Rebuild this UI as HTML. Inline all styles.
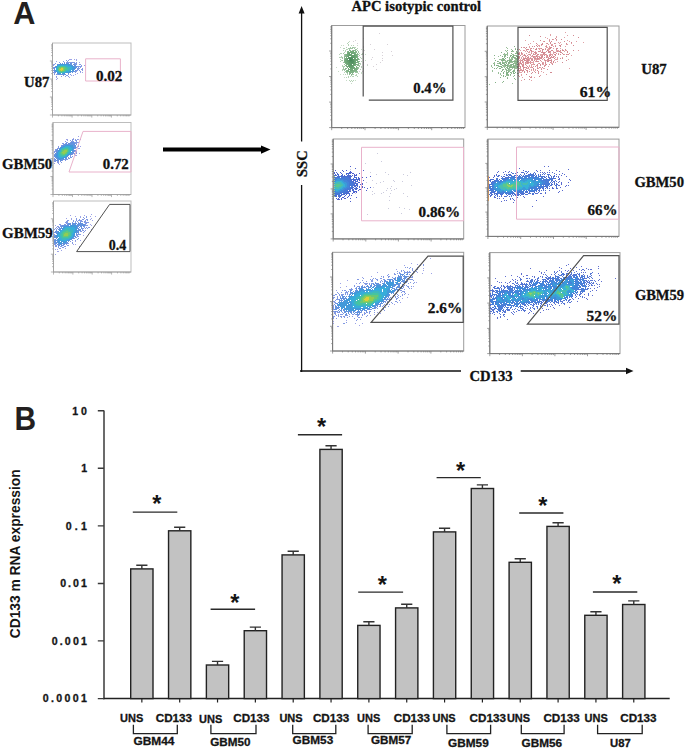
<!DOCTYPE html>
<html><head><meta charset="utf-8"><style>
html,body{margin:0;padding:0;background:#fff;width:685px;height:748px;overflow:hidden}
svg{display:block}
</style></head><body>
<svg width="685" height="748" viewBox="0 0 685 748">
<defs><filter id="bl" x="-20%" y="-20%" width="140%" height="140%"><feGaussianBlur stdDeviation="0.45"/></filter></defs>
<rect width="685" height="748" fill="#fff"/>
<text x="13.2" y="24" style="font-family:'Liberation Sans',sans-serif;font-weight:bold;font-size:30.7px" fill="#231f20" >A</text>
<rect x="52.5" y="43" width="78.5" height="72" fill="none" stroke="#bdbdbd" stroke-width="1"/>
<path d="M52.5 43V115H131" fill="none" stroke="#a5a5a5" stroke-width="1"/>
<path d="M49.9 115.0h2.6 M51.1 109.6h1.4 M51.1 106.4h1.4 M51.1 104.2h1.4 M51.1 102.4h1.4 M51.1 101.0h1.4 M51.1 99.8h1.4 M51.1 98.7h1.4 M51.1 97.8h1.4 M49.9 97.0h2.6 M51.1 91.6h1.4 M51.1 88.4h1.4 M51.1 86.2h1.4 M51.1 84.4h1.4 M51.1 83.0h1.4 M51.1 81.8h1.4 M51.1 80.7h1.4 M51.1 79.8h1.4 M49.9 79.0h2.6 M51.1 73.6h1.4 M51.1 70.4h1.4 M51.1 68.2h1.4 M51.1 66.4h1.4 M51.1 65.0h1.4 M51.1 63.8h1.4 M51.1 62.7h1.4 M51.1 61.8h1.4 M49.9 61.0h2.6 M51.1 55.6h1.4 M51.1 52.4h1.4 M51.1 50.2h1.4 M51.1 48.4h1.4 M51.1 47.0h1.4 M51.1 45.8h1.4 M51.1 44.7h1.4 M52.5 115v2.6 M58.4 115v1.4 M61.9 115v1.4 M64.3 115v1.4 M66.2 115v1.4 M67.8 115v1.4 M69.1 115v1.4 M70.2 115v1.4 M71.2 115v1.4 M72.1 115v2.6 M78.0 115v1.4 M81.5 115v1.4 M83.9 115v1.4 M85.8 115v1.4 M87.4 115v1.4 M88.7 115v1.4 M89.8 115v1.4 M90.9 115v1.4 M91.8 115v2.6 M97.7 115v1.4 M101.1 115v1.4 M103.6 115v1.4 M105.5 115v1.4 M107.0 115v1.4 M108.3 115v1.4 M109.5 115v1.4 M110.5 115v1.4 M111.4 115v2.6 M117.3 115v1.4 M120.7 115v1.4 M123.2 115v1.4 M125.1 115v1.4 M126.6 115v1.4 M128.0 115v1.4 M129.1 115v1.4" stroke="#999" stroke-width="0.7" fill="none"/>
<rect x="53" y="122.5" width="78" height="72.0" fill="none" stroke="#bdbdbd" stroke-width="1"/>
<path d="M53 122.5V194.5H131" fill="none" stroke="#a5a5a5" stroke-width="1"/>
<path d="M50.4 194.5h2.6 M51.6 189.1h1.4 M51.6 185.9h1.4 M51.6 183.7h1.4 M51.6 181.9h1.4 M51.6 180.5h1.4 M51.6 179.3h1.4 M51.6 178.2h1.4 M51.6 177.3h1.4 M50.4 176.5h2.6 M51.6 171.1h1.4 M51.6 167.9h1.4 M51.6 165.7h1.4 M51.6 163.9h1.4 M51.6 162.5h1.4 M51.6 161.3h1.4 M51.6 160.2h1.4 M51.6 159.3h1.4 M50.4 158.5h2.6 M51.6 153.1h1.4 M51.6 149.9h1.4 M51.6 147.7h1.4 M51.6 145.9h1.4 M51.6 144.5h1.4 M51.6 143.3h1.4 M51.6 142.2h1.4 M51.6 141.3h1.4 M50.4 140.5h2.6 M51.6 135.1h1.4 M51.6 131.9h1.4 M51.6 129.7h1.4 M51.6 127.9h1.4 M51.6 126.5h1.4 M51.6 125.3h1.4 M51.6 124.2h1.4 M53.0 194.5v2.6 M58.9 194.5v1.4 M62.3 194.5v1.4 M64.7 194.5v1.4 M66.6 194.5v1.4 M68.2 194.5v1.4 M69.5 194.5v1.4 M70.6 194.5v1.4 M71.6 194.5v1.4 M72.5 194.5v2.6 M78.4 194.5v1.4 M81.8 194.5v1.4 M84.2 194.5v1.4 M86.1 194.5v1.4 M87.7 194.5v1.4 M89.0 194.5v1.4 M90.1 194.5v1.4 M91.1 194.5v1.4 M92.0 194.5v2.6 M97.9 194.5v1.4 M101.3 194.5v1.4 M103.7 194.5v1.4 M105.6 194.5v1.4 M107.2 194.5v1.4 M108.5 194.5v1.4 M109.6 194.5v1.4 M110.6 194.5v1.4 M111.5 194.5v2.6 M117.4 194.5v1.4 M120.8 194.5v1.4 M123.2 194.5v1.4 M125.1 194.5v1.4 M126.7 194.5v1.4 M128.0 194.5v1.4 M129.1 194.5v1.4" stroke="#999" stroke-width="0.7" fill="none"/>
<rect x="53.5" y="201" width="77.5" height="71" fill="none" stroke="#bdbdbd" stroke-width="1"/>
<path d="M53.5 201V272H131" fill="none" stroke="#a5a5a5" stroke-width="1"/>
<path d="M50.9 272.0h2.6 M52.1 266.7h1.4 M52.1 263.5h1.4 M52.1 261.3h1.4 M52.1 259.6h1.4 M52.1 258.2h1.4 M52.1 257.0h1.4 M52.1 256.0h1.4 M52.1 255.1h1.4 M50.9 254.2h2.6 M52.1 248.9h1.4 M52.1 245.8h1.4 M52.1 243.6h1.4 M52.1 241.8h1.4 M52.1 240.4h1.4 M52.1 239.2h1.4 M52.1 238.2h1.4 M52.1 237.3h1.4 M50.9 236.5h2.6 M52.1 231.2h1.4 M52.1 228.0h1.4 M52.1 225.8h1.4 M52.1 224.1h1.4 M52.1 222.7h1.4 M52.1 221.5h1.4 M52.1 220.5h1.4 M52.1 219.6h1.4 M50.9 218.8h2.6 M52.1 213.4h1.4 M52.1 210.3h1.4 M52.1 208.1h1.4 M52.1 206.3h1.4 M52.1 204.9h1.4 M52.1 203.7h1.4 M52.1 202.7h1.4 M53.5 272v2.6 M59.3 272v1.4 M62.7 272v1.4 M65.2 272v1.4 M67.0 272v1.4 M68.6 272v1.4 M69.9 272v1.4 M71.0 272v1.4 M72.0 272v1.4 M72.9 272v2.6 M78.7 272v1.4 M82.1 272v1.4 M84.5 272v1.4 M86.4 272v1.4 M88.0 272v1.4 M89.2 272v1.4 M90.4 272v1.4 M91.4 272v1.4 M92.2 272v2.6 M98.1 272v1.4 M101.5 272v1.4 M103.9 272v1.4 M105.8 272v1.4 M107.3 272v1.4 M108.6 272v1.4 M109.7 272v1.4 M110.7 272v1.4 M111.6 272v2.6 M117.5 272v1.4 M120.9 272v1.4 M123.3 272v1.4 M125.2 272v1.4 M126.7 272v1.4 M128.0 272v1.4 M129.1 272v1.4" stroke="#999" stroke-width="0.7" fill="none"/>
<g stroke-width="1" opacity="0.9" filter="url(#bl)"><path d="M69 59.5h1M70 59.5h1M71 59.5h1M74 59.5h1M76 59.5h1M76 60.5h1M56 61.5h1M79 62.5h1M53 64.5h1M84 65.5h1M80 72.5h1M82 72.5h1M77 73.5h1M75 74.5h1M71 75.5h1M73 75.5h1M56 77.5h1M69 77.5h1M57 78.5h1M56 79.5h1" stroke="#939ae5"/><path d="M66 60.5h1M68 60.5h1M63 61.5h1M67 61.5h1M59 62.5h1M64 62.5h1M66 62.5h1M67 62.5h1M68 62.5h1M69 62.5h1M70 62.5h1M71 62.5h1M72 62.5h1M73 62.5h1M74 62.5h1M76 62.5h1M55 63.5h1M74 63.5h1M75 63.5h1M76 63.5h1M54 64.5h1M75 64.5h1M76 64.5h1M79 64.5h1M80 64.5h1M53 65.5h1M81 65.5h1M77 66.5h1M78 66.5h1M79 66.5h1M80 66.5h1M81 66.5h1M53 67.5h1M78 67.5h1M80 67.5h1M53 68.5h1M77 68.5h1M78 68.5h1M79 68.5h1M82 68.5h1M77 69.5h1M78 69.5h1M81 69.5h1M82 69.5h1M53 70.5h1M76 70.5h1M77 70.5h1M79 70.5h1M82 70.5h1M75 71.5h1M76 71.5h1M80 71.5h1M53 72.5h1M54 72.5h1M75 72.5h1M54 73.5h1M54 74.5h1M56 74.5h1M57 74.5h1M68 74.5h1M70 74.5h1M63 75.5h1M66 75.5h1M67 75.5h1M56 76.5h1M61 76.5h1M65 76.5h1M68 76.5h1" stroke="#758fe0"/><path d="M60 63.5h1M62 63.5h1M64 63.5h1M66 63.5h1M67 63.5h1M68 63.5h1M70 63.5h1M71 63.5h1M57 64.5h1M58 64.5h1M70 64.5h1M71 64.5h1M73 64.5h1M74 64.5h1M72 65.5h1M74 65.5h1M75 65.5h1M55 66.5h1M74 66.5h1M75 66.5h1M76 66.5h1M54 67.5h1M55 67.5h1M75 67.5h1M76 67.5h1M54 68.5h1M75 68.5h1M54 69.5h1M74 69.5h1M54 70.5h1M75 70.5h1M54 71.5h1M55 71.5h1M72 71.5h1M73 71.5h1M74 71.5h1M55 72.5h1M70 72.5h1M72 72.5h1M57 73.5h1M68 73.5h1M58 74.5h1M59 74.5h1M60 74.5h1M61 74.5h1M62 74.5h1M63 74.5h1M64 74.5h1M65 74.5h1" stroke="#5287db"/><path d="M59 64.5h1M60 64.5h1M61 64.5h1M62 64.5h1M63 64.5h1M64 64.5h1M65 64.5h1M66 64.5h1M67 64.5h1M68 64.5h1M69 64.5h1M57 65.5h1M68 65.5h1M69 65.5h1M70 65.5h1M71 65.5h1M56 66.5h1M71 66.5h1M72 66.5h1M73 66.5h1M56 67.5h1M72 67.5h1M73 67.5h1M74 67.5h1M72 68.5h1M73 68.5h1M74 68.5h1M72 69.5h1M73 69.5h1M55 70.5h1M72 70.5h1M73 70.5h1M56 71.5h1M69 71.5h1M70 71.5h1M71 71.5h1M57 72.5h1M66 72.5h1M67 72.5h1M68 72.5h1M69 72.5h1M58 73.5h1M59 73.5h1M63 73.5h1M64 73.5h1" stroke="#2f8ed7"/><path d="M58 65.5h1M59 65.5h1M60 65.5h1M61 65.5h1M62 65.5h1M63 65.5h1M64 65.5h1M65 65.5h1M66 65.5h1M67 65.5h1M57 66.5h1M67 66.5h1M68 66.5h1M69 66.5h1M70 66.5h1M70 67.5h1M71 67.5h1M56 68.5h1M70 68.5h1M71 68.5h1M56 69.5h1M70 69.5h1M71 69.5h1M56 70.5h1M69 70.5h1M70 70.5h1M57 71.5h1M66 71.5h1M67 71.5h1M68 71.5h1M58 72.5h1M64 72.5h1M65 72.5h1M60 73.5h1M62 73.5h1" stroke="#23a5d7"/><path d="M58 66.5h1M59 66.5h1M65 66.5h1M66 66.5h1M57 67.5h1M67 67.5h1M68 67.5h1M69 67.5h1M57 68.5h1M68 68.5h1M69 68.5h1M57 69.5h1M68 69.5h1M69 69.5h1M57 70.5h1M66 70.5h1M67 70.5h1M68 70.5h1M58 71.5h1M65 71.5h1M59 72.5h1M60 72.5h1M62 72.5h1M63 72.5h1" stroke="#2ab1b6"/><path d="M60 66.5h1M61 66.5h1M62 66.5h1M63 66.5h1M64 66.5h1M58 67.5h1M65 67.5h1M66 67.5h1M58 68.5h1M66 68.5h1M67 68.5h1M65 69.5h1M66 69.5h1M67 69.5h1M58 70.5h1M65 70.5h1M59 71.5h1M63 71.5h1M64 71.5h1M61 72.5h1" stroke="#32be96"/><path d="M59 67.5h1M60 67.5h1M63 67.5h1M64 67.5h1M64 68.5h1M65 68.5h1M58 69.5h1M64 69.5h1M64 70.5h1M60 71.5h1M61 71.5h1M62 71.5h1" stroke="#58c369"/><path d="M61 67.5h1M62 67.5h1M59 68.5h1M60 68.5h1M63 68.5h1M59 69.5h1M63 69.5h1M59 70.5h1M60 70.5h1M62 70.5h1M63 70.5h1" stroke="#88c841"/><path d="M61 68.5h1M62 68.5h1M60 69.5h1M61 69.5h1M62 69.5h1M61 70.5h1" stroke="#dcc828"/></g>
<g stroke-width="1" opacity="0.9" filter="url(#bl)"><path d="M78 136.5h1M73 138.5h1M66 139.5h1M67 139.5h1M78 139.5h1M80 139.5h1M67 140.5h1M80 146.5h1M78 148.5h1M79 148.5h1M79 153.5h1M75 155.5h1M76 155.5h1M54 163.5h1M59 164.5h1" stroke="#939ae5"/><path d="M72 139.5h1M73 139.5h1M75 139.5h1M77 139.5h1M70 140.5h1M72 140.5h1M75 140.5h1M76 140.5h1M65 141.5h1M71 141.5h1M72 141.5h1M73 141.5h1M76 141.5h1M66 142.5h1M67 142.5h1M70 142.5h1M74 142.5h1M75 142.5h1M76 142.5h1M77 142.5h1M78 142.5h1M62 143.5h1M63 143.5h1M65 143.5h1M75 143.5h1M76 143.5h1M63 144.5h1M76 144.5h1M61 145.5h1M78 145.5h1M58 146.5h1M77 146.5h1M78 146.5h1M58 147.5h1M76 147.5h1M57 148.5h1M58 148.5h1M75 148.5h1M55 149.5h1M56 149.5h1M55 150.5h1M75 150.5h1M76 150.5h1M54 151.5h1M55 151.5h1M74 151.5h1M75 151.5h1M76 151.5h1M54 152.5h1M76 152.5h1M73 153.5h1M74 153.5h1M76 153.5h1M54 154.5h1M72 154.5h1M74 154.5h1M70 155.5h1M70 156.5h1M72 156.5h1M68 157.5h1M70 157.5h1M71 157.5h1M54 158.5h1M68 158.5h1M69 158.5h1M54 159.5h1M64 159.5h1M65 159.5h1M66 159.5h1M67 159.5h1M54 160.5h1M55 160.5h1M62 160.5h1M65 160.5h1M54 161.5h1M55 161.5h1M57 161.5h1M58 161.5h1M60 161.5h1M57 162.5h1M58 162.5h1M61 162.5h1M58 163.5h1" stroke="#758fe0"/><path d="M71 142.5h1M72 142.5h1M73 142.5h1M66 143.5h1M68 143.5h1M69 143.5h1M70 143.5h1M71 143.5h1M72 143.5h1M73 143.5h1M74 143.5h1M64 144.5h1M65 144.5h1M66 144.5h1M67 144.5h1M68 144.5h1M69 144.5h1M70 144.5h1M71 144.5h1M72 144.5h1M73 144.5h1M74 144.5h1M62 145.5h1M63 145.5h1M64 145.5h1M73 145.5h1M74 145.5h1M75 145.5h1M61 146.5h1M62 146.5h1M73 146.5h1M74 146.5h1M75 146.5h1M60 147.5h1M74 147.5h1M75 147.5h1M59 148.5h1M74 148.5h1M57 149.5h1M73 149.5h1M56 150.5h1M57 150.5h1M73 150.5h1M74 150.5h1M56 151.5h1M57 151.5h1M72 151.5h1M73 151.5h1M56 152.5h1M72 152.5h1M73 152.5h1M55 153.5h1M56 153.5h1M71 153.5h1M72 153.5h1M55 154.5h1M70 154.5h1M71 154.5h1M54 155.5h1M55 155.5h1M68 155.5h1M54 156.5h1M55 156.5h1M67 156.5h1M55 157.5h1M56 157.5h1M66 157.5h1M56 158.5h1M57 158.5h1M65 158.5h1M66 158.5h1M55 159.5h1M57 159.5h1M58 159.5h1M61 159.5h1M62 159.5h1M63 159.5h1M56 160.5h1M57 160.5h1M58 160.5h1M60 160.5h1M61 160.5h1" stroke="#5287db"/><path d="M65 145.5h1M66 145.5h1M67 145.5h1M68 145.5h1M69 145.5h1M70 145.5h1M71 145.5h1M72 145.5h1M63 146.5h1M64 146.5h1M70 146.5h1M71 146.5h1M72 146.5h1M61 147.5h1M62 147.5h1M71 147.5h1M72 147.5h1M73 147.5h1M60 148.5h1M72 148.5h1M73 148.5h1M59 149.5h1M72 149.5h1M58 150.5h1M59 150.5h1M72 150.5h1M58 151.5h1M57 152.5h1M71 152.5h1M57 153.5h1M70 153.5h1M56 154.5h1M57 154.5h1M68 154.5h1M69 154.5h1M56 155.5h1M57 155.5h1M67 155.5h1M56 156.5h1M57 156.5h1M66 156.5h1M57 157.5h1M58 157.5h1M63 157.5h1M64 157.5h1M65 157.5h1M58 158.5h1M59 158.5h1M60 158.5h1M61 158.5h1M62 158.5h1M63 158.5h1M59 159.5h1M60 159.5h1" stroke="#2f8ed7"/><path d="M65 146.5h1M66 146.5h1M67 146.5h1M68 146.5h1M69 146.5h1M63 147.5h1M64 147.5h1M69 147.5h1M70 147.5h1M61 148.5h1M70 148.5h1M71 148.5h1M60 149.5h1M71 149.5h1M60 150.5h1M70 150.5h1M71 150.5h1M59 151.5h1M70 151.5h1M58 152.5h1M69 152.5h1M70 152.5h1M58 153.5h1M68 153.5h1M69 153.5h1M58 154.5h1M67 154.5h1M58 155.5h1M66 155.5h1M58 156.5h1M59 156.5h1M64 156.5h1M65 156.5h1M59 157.5h1M60 157.5h1M61 157.5h1M62 157.5h1" stroke="#23a5d7"/><path d="M65 147.5h1M66 147.5h1M67 147.5h1M68 147.5h1M62 148.5h1M63 148.5h1M68 148.5h1M69 148.5h1M61 149.5h1M69 149.5h1M70 149.5h1M69 150.5h1M60 151.5h1M69 151.5h1M59 152.5h1M68 152.5h1M59 153.5h1M67 153.5h1M59 154.5h1M66 154.5h1M59 155.5h1M60 155.5h1M65 155.5h1M60 156.5h1M61 156.5h1M62 156.5h1M63 156.5h1" stroke="#2ab1b6"/><path d="M64 148.5h1M65 148.5h1M66 148.5h1M67 148.5h1M62 149.5h1M63 149.5h1M68 149.5h1M61 150.5h1M68 150.5h1M61 151.5h1M68 151.5h1M60 152.5h1M67 152.5h1M60 153.5h1M60 154.5h1M61 154.5h1M65 154.5h1M61 155.5h1M62 155.5h1M63 155.5h1M64 155.5h1" stroke="#32be96"/><path d="M64 149.5h1M65 149.5h1M66 149.5h1M67 149.5h1M62 150.5h1M63 150.5h1M67 150.5h1M62 151.5h1M67 151.5h1M61 152.5h1M66 152.5h1M61 153.5h1M62 153.5h1M65 153.5h1M66 153.5h1M62 154.5h1M63 154.5h1M64 154.5h1" stroke="#58c369"/><path d="M64 150.5h1M65 150.5h1M66 150.5h1M63 151.5h1M64 151.5h1M65 151.5h1M66 151.5h1M62 152.5h1M63 152.5h1M64 152.5h1M65 152.5h1M63 153.5h1M64 153.5h1" stroke="#88c841"/></g>
<g stroke-width="1" opacity="0.9" filter="url(#bl)"><path d="M91 214.5h1M70 215.5h1M84 215.5h1M75 216.5h1M80 216.5h1M90 216.5h1M95 216.5h1M80 217.5h1M66 218.5h1M71 218.5h1M91 218.5h1M71 219.5h1M90 219.5h1M92 220.5h1M90 224.5h1M55 225.5h1M91 225.5h1M91 229.5h1M83 235.5h1M80 240.5h1M75 241.5h1M73 244.5h1M75 244.5h1M79 246.5h1M65 248.5h1M55 249.5h1M57 249.5h1M61 250.5h1M57 251.5h1M58 251.5h1M55 254.5h1" stroke="#939ae5"/><path d="M86 216.5h1M83 217.5h1M86 217.5h1M76 218.5h1M84 218.5h1M76 219.5h1M79 219.5h1M82 219.5h1M83 219.5h1M86 219.5h1M87 219.5h1M67 220.5h1M68 220.5h1M73 220.5h1M76 220.5h1M78 220.5h1M79 220.5h1M80 220.5h1M81 220.5h1M85 220.5h1M87 220.5h1M66 221.5h1M67 221.5h1M73 221.5h1M75 221.5h1M77 221.5h1M80 221.5h1M81 221.5h1M82 221.5h1M84 221.5h1M85 221.5h1M65 222.5h1M66 222.5h1M67 222.5h1M72 222.5h1M75 222.5h1M78 222.5h1M84 222.5h1M85 222.5h1M86 222.5h1M87 222.5h1M88 222.5h1M66 223.5h1M67 223.5h1M85 223.5h1M86 223.5h1M59 224.5h1M60 224.5h1M64 224.5h1M65 224.5h1M85 224.5h1M60 225.5h1M61 225.5h1M85 225.5h1M86 225.5h1M87 225.5h1M57 226.5h1M58 226.5h1M60 226.5h1M84 226.5h1M56 227.5h1M58 227.5h1M59 227.5h1M84 227.5h1M86 227.5h1M88 227.5h1M89 227.5h1M55 228.5h1M57 228.5h1M82 228.5h1M83 228.5h1M85 228.5h1M87 228.5h1M54 229.5h1M56 229.5h1M82 229.5h1M82 230.5h1M83 230.5h1M85 230.5h1M80 231.5h1M81 231.5h1M84 231.5h1M54 232.5h1M83 232.5h1M78 233.5h1M54 234.5h1M77 234.5h1M78 234.5h1M79 234.5h1M80 234.5h1M54 235.5h1M76 235.5h1M77 235.5h1M77 236.5h1M78 236.5h1M75 237.5h1M76 237.5h1M74 238.5h1M78 238.5h1M54 239.5h1M77 239.5h1M72 240.5h1M75 240.5h1M70 241.5h1M72 242.5h1M54 243.5h1M67 243.5h1M68 243.5h1M72 243.5h1M54 244.5h1M55 244.5h1M66 244.5h1M55 245.5h1M56 245.5h1M63 245.5h1M67 245.5h1M68 245.5h1M55 246.5h1M56 246.5h1M58 246.5h1M60 246.5h1M61 246.5h1M64 246.5h1M65 246.5h1M58 247.5h1M62 247.5h1M63 247.5h1M59 248.5h1M60 248.5h1" stroke="#758fe0"/><path d="M80 222.5h1M68 223.5h1M69 223.5h1M70 223.5h1M72 223.5h1M73 223.5h1M74 223.5h1M75 223.5h1M76 223.5h1M78 223.5h1M79 223.5h1M80 223.5h1M81 223.5h1M82 223.5h1M67 224.5h1M68 224.5h1M69 224.5h1M70 224.5h1M72 224.5h1M73 224.5h1M74 224.5h1M75 224.5h1M77 224.5h1M78 224.5h1M79 224.5h1M80 224.5h1M81 224.5h1M82 224.5h1M83 224.5h1M84 224.5h1M62 225.5h1M63 225.5h1M64 225.5h1M65 225.5h1M66 225.5h1M67 225.5h1M68 225.5h1M70 225.5h1M76 225.5h1M77 225.5h1M78 225.5h1M79 225.5h1M80 225.5h1M81 225.5h1M82 225.5h1M83 225.5h1M84 225.5h1M61 226.5h1M62 226.5h1M63 226.5h1M77 226.5h1M78 226.5h1M80 226.5h1M81 226.5h1M83 226.5h1M61 227.5h1M77 227.5h1M79 227.5h1M81 227.5h1M59 228.5h1M60 228.5h1M61 228.5h1M77 228.5h1M78 228.5h1M81 228.5h1M58 229.5h1M59 229.5h1M60 229.5h1M78 229.5h1M79 229.5h1M80 229.5h1M56 230.5h1M77 230.5h1M78 230.5h1M79 230.5h1M80 230.5h1M55 231.5h1M56 231.5h1M57 231.5h1M77 231.5h1M78 231.5h1M55 232.5h1M56 232.5h1M57 232.5h1M76 232.5h1M77 232.5h1M78 232.5h1M56 233.5h1M76 233.5h1M76 234.5h1M55 235.5h1M74 235.5h1M54 236.5h1M55 236.5h1M74 236.5h1M75 236.5h1M54 237.5h1M55 237.5h1M56 237.5h1M73 237.5h1M56 238.5h1M72 238.5h1M73 238.5h1M55 239.5h1M71 239.5h1M54 240.5h1M55 240.5h1M56 240.5h1M57 240.5h1M69 240.5h1M54 241.5h1M55 241.5h1M57 241.5h1M68 241.5h1M54 242.5h1M55 242.5h1M56 242.5h1M57 242.5h1M66 242.5h1M67 242.5h1M55 243.5h1M56 243.5h1M58 243.5h1M62 243.5h1M63 243.5h1M64 243.5h1M65 243.5h1M66 243.5h1M57 244.5h1M58 244.5h1M59 244.5h1M60 244.5h1M61 244.5h1M63 244.5h1M64 244.5h1M58 245.5h1M59 245.5h1M61 245.5h1M62 245.5h1" stroke="#5287db"/><path d="M71 225.5h1M72 225.5h1M73 225.5h1M74 225.5h1M75 225.5h1M64 226.5h1M65 226.5h1M66 226.5h1M67 226.5h1M68 226.5h1M69 226.5h1M70 226.5h1M71 226.5h1M72 226.5h1M73 226.5h1M74 226.5h1M75 226.5h1M76 226.5h1M63 227.5h1M64 227.5h1M74 227.5h1M75 227.5h1M76 227.5h1M62 228.5h1M63 228.5h1M75 228.5h1M76 228.5h1M62 229.5h1M75 229.5h1M76 229.5h1M59 230.5h1M60 230.5h1M75 230.5h1M76 230.5h1M58 231.5h1M75 231.5h1M76 231.5h1M58 232.5h1M74 232.5h1M75 232.5h1M57 233.5h1M58 233.5h1M74 233.5h1M57 234.5h1M73 234.5h1M74 234.5h1M56 235.5h1M57 235.5h1M73 235.5h1M56 236.5h1M57 236.5h1M73 236.5h1M57 237.5h1M72 237.5h1M58 238.5h1M71 238.5h1M57 239.5h1M58 239.5h1M69 239.5h1M70 239.5h1M58 240.5h1M59 240.5h1M67 240.5h1M68 240.5h1M58 241.5h1M59 241.5h1M61 241.5h1M62 241.5h1M63 241.5h1M64 241.5h1M65 241.5h1M66 241.5h1M58 242.5h1M59 242.5h1M60 242.5h1M61 242.5h1M63 242.5h1M64 242.5h1M65 242.5h1M59 243.5h1M60 243.5h1M61 243.5h1" stroke="#2f8ed7"/><path d="M65 227.5h1M66 227.5h1M67 227.5h1M68 227.5h1M69 227.5h1M70 227.5h1M71 227.5h1M72 227.5h1M73 227.5h1M64 228.5h1M65 228.5h1M70 228.5h1M71 228.5h1M72 228.5h1M73 228.5h1M74 228.5h1M63 229.5h1M71 229.5h1M72 229.5h1M73 229.5h1M74 229.5h1M61 230.5h1M62 230.5h1M73 230.5h1M74 230.5h1M60 231.5h1M61 231.5h1M73 231.5h1M74 231.5h1M59 232.5h1M60 232.5h1M73 232.5h1M59 233.5h1M72 233.5h1M73 233.5h1M58 234.5h1M59 234.5h1M72 234.5h1M58 235.5h1M59 235.5h1M72 235.5h1M58 236.5h1M59 236.5h1M71 236.5h1M72 236.5h1M59 237.5h1M70 237.5h1M71 237.5h1M59 238.5h1M60 238.5h1M69 238.5h1M70 238.5h1M59 239.5h1M60 239.5h1M61 239.5h1M66 239.5h1M67 239.5h1M68 239.5h1M60 240.5h1M61 240.5h1M62 240.5h1M63 240.5h1M64 240.5h1M65 240.5h1M66 240.5h1" stroke="#23a5d7"/><path d="M66 228.5h1M67 228.5h1M68 228.5h1M69 228.5h1M64 229.5h1M65 229.5h1M66 229.5h1M67 229.5h1M68 229.5h1M69 229.5h1M70 229.5h1M63 230.5h1M64 230.5h1M69 230.5h1M70 230.5h1M71 230.5h1M72 230.5h1M62 231.5h1M70 231.5h1M71 231.5h1M72 231.5h1M61 232.5h1M71 232.5h1M72 232.5h1M60 233.5h1M61 233.5h1M71 233.5h1M60 234.5h1M71 234.5h1M60 235.5h1M71 235.5h1M60 236.5h1M61 236.5h1M70 236.5h1M60 237.5h1M61 237.5h1M69 237.5h1M61 238.5h1M62 238.5h1M63 238.5h1M64 238.5h1M65 238.5h1M66 238.5h1M67 238.5h1M68 238.5h1M62 239.5h1M63 239.5h1M64 239.5h1M65 239.5h1" stroke="#2ab1b6"/><path d="M65 230.5h1M66 230.5h1M67 230.5h1M68 230.5h1M63 231.5h1M64 231.5h1M65 231.5h1M68 231.5h1M69 231.5h1M62 232.5h1M63 232.5h1M70 232.5h1M62 233.5h1M70 233.5h1M61 234.5h1M62 234.5h1M70 234.5h1M61 235.5h1M62 235.5h1M69 235.5h1M70 235.5h1M62 236.5h1M68 236.5h1M69 236.5h1M62 237.5h1M63 237.5h1M64 237.5h1M65 237.5h1M66 237.5h1M67 237.5h1M68 237.5h1" stroke="#32be96"/><path d="M66 231.5h1M67 231.5h1M64 232.5h1M65 232.5h1M66 232.5h1M67 232.5h1M68 232.5h1M69 232.5h1M63 233.5h1M64 233.5h1M68 233.5h1M69 233.5h1M63 234.5h1M68 234.5h1M69 234.5h1M63 235.5h1M68 235.5h1M63 236.5h1M64 236.5h1M65 236.5h1M66 236.5h1M67 236.5h1" stroke="#58c369"/><path d="M65 233.5h1M66 233.5h1M67 233.5h1M64 234.5h1M65 234.5h1M66 234.5h1M67 234.5h1M64 235.5h1M65 235.5h1M66 235.5h1M67 235.5h1" stroke="#88c841"/></g>
<path d="M85.6 58.8 L120.4 58.8 L120.4 81 L85.6 81Z" fill="none" stroke="#e9b2cb" stroke-width="1"/>
<path d="M83 131.4 L131 131.4 L131 172 L69 172Z" fill="none" stroke="#e9b2cb" stroke-width="1"/>
<path d="M109.6 204.4 L130 204.4 L130 251.6 L76.6 251.6Z" fill="none" stroke="#505050" stroke-width="1"/>
<text x="96.0" y="81.3" style="font-family:'Liberation Serif',serif;font-weight:bold;stroke:#111;stroke-width:0.3px;font-size:15px" fill="#111" textLength="26.4" lengthAdjust="spacingAndGlyphs" >0.02</text>
<text x="102.8" y="169.4" style="font-family:'Liberation Serif',serif;font-weight:bold;stroke:#111;stroke-width:0.3px;font-size:15px" fill="#111" textLength="26" lengthAdjust="spacingAndGlyphs" >0.72</text>
<text x="108.8" y="250.2" style="font-family:'Liberation Serif',serif;font-weight:bold;stroke:#111;stroke-width:0.3px;font-size:15px" fill="#111" textLength="17.5" lengthAdjust="spacingAndGlyphs" >0.4</text>
<text x="24.0" y="87" style="font-family:'Liberation Serif',serif;font-weight:bold;stroke:#111;stroke-width:0.3px;font-size:15px" fill="#111" textLength="25.4" lengthAdjust="spacingAndGlyphs" >U87</text>
<text x="2.0" y="169" style="font-family:'Liberation Serif',serif;font-weight:bold;stroke:#111;stroke-width:0.3px;font-size:15px" fill="#111" textLength="50.2" lengthAdjust="spacingAndGlyphs" >GBM50</text>
<text x="2.0" y="238.4" style="font-family:'Liberation Serif',serif;font-weight:bold;stroke:#111;stroke-width:0.3px;font-size:15px" fill="#111" textLength="50.8" lengthAdjust="spacingAndGlyphs" >GBM59</text>
<path d="M163 149.6H263" stroke="#000" stroke-width="4"/>
<path d="M261 145.4L270.5 149.6L261 153.8Z" fill="#000"/>
<path d="M301.6 12V141.6M301.6 185V372" stroke="#111" stroke-width="1.3"/>
<path d="M298.6 13.5L301.6 6L304.6 13.5Z" fill="#111"/>
<path d="M300 371H461M520.7 371H627" stroke="#111" stroke-width="1.6"/>
<path d="M626 367.8L633.5 371L626 374.2Z" fill="#111"/>
<text x="351.4" y="10.8" style="font-family:'Liberation Serif',serif;font-weight:bold;stroke:#111;stroke-width:0.3px;font-size:15px" fill="#111" textLength="129.8" lengthAdjust="spacingAndGlyphs" >APC isotypic control</text>
<text x="469.5" y="381.2" style="font-family:'Liberation Serif',serif;font-weight:bold;stroke:#111;stroke-width:0.3px;font-size:15px" fill="#111" textLength="43" lengthAdjust="spacingAndGlyphs" >CD133</text>
<text transform="translate(307.4 177) rotate(-90)" style="font-family:'Liberation Serif',serif;font-weight:bold;stroke:#111;stroke-width:0.3px;font-size:14px" fill="#111" textLength="26.6" lengthAdjust="spacingAndGlyphs">SSC</text>
<text x="641.2" y="73.9" style="font-family:'Liberation Serif',serif;font-weight:bold;stroke:#111;stroke-width:0.3px;font-size:15px" fill="#111" textLength="25.6" lengthAdjust="spacingAndGlyphs" >U87</text>
<text x="634.4" y="186.8" style="font-family:'Liberation Serif',serif;font-weight:bold;stroke:#111;stroke-width:0.3px;font-size:15px" fill="#111" textLength="49.6" lengthAdjust="spacingAndGlyphs" >GBM50</text>
<text x="634.9" y="299.8" style="font-family:'Liberation Serif',serif;font-weight:bold;stroke:#111;stroke-width:0.3px;font-size:15px" fill="#111" textLength="49.2" lengthAdjust="spacingAndGlyphs" >GBM59</text>
<rect x="331.7" y="25.5" width="133.3" height="102.1" fill="none" stroke="#9c9c9c" stroke-width="1"/>
<path d="M331.7 25.5V127.6H465" fill="none" stroke="#777" stroke-width="1"/>
<path d="M329.1 127.6h2.6 M330.3 119.9h1.4 M330.3 115.4h1.4 M330.3 112.2h1.4 M330.3 109.8h1.4 M330.3 107.7h1.4 M330.3 106.0h1.4 M330.3 104.5h1.4 M330.3 103.2h1.4 M329.1 102.1h2.6 M330.3 94.4h1.4 M330.3 89.9h1.4 M330.3 86.7h1.4 M330.3 84.2h1.4 M330.3 82.2h1.4 M330.3 80.5h1.4 M330.3 79.0h1.4 M330.3 77.7h1.4 M329.1 76.5h2.6 M330.3 68.9h1.4 M330.3 64.4h1.4 M330.3 61.2h1.4 M330.3 58.7h1.4 M330.3 56.7h1.4 M330.3 55.0h1.4 M330.3 53.5h1.4 M330.3 52.2h1.4 M329.1 51.0h2.6 M330.3 43.3h1.4 M330.3 38.8h1.4 M330.3 35.7h1.4 M330.3 33.2h1.4 M330.3 31.2h1.4 M330.3 29.5h1.4 M330.3 28.0h1.4 M330.3 26.7h1.4 M331.7 127.6v2.6 M341.7 127.6v1.4 M347.6 127.6v1.4 M351.8 127.6v1.4 M355.0 127.6v1.4 M357.6 127.6v1.4 M359.9 127.6v1.4 M361.8 127.6v1.4 M363.5 127.6v1.4 M365.0 127.6v2.6 M375.1 127.6v1.4 M380.9 127.6v1.4 M385.1 127.6v1.4 M388.3 127.6v1.4 M391.0 127.6v1.4 M393.2 127.6v1.4 M395.1 127.6v1.4 M396.8 127.6v1.4 M398.4 127.6v2.6 M408.4 127.6v1.4 M414.3 127.6v1.4 M418.4 127.6v1.4 M421.6 127.6v1.4 M424.3 127.6v1.4 M426.5 127.6v1.4 M428.4 127.6v1.4 M430.2 127.6v1.4 M431.7 127.6v2.6 M441.7 127.6v1.4 M447.6 127.6v1.4 M451.7 127.6v1.4 M455.0 127.6v1.4 M457.6 127.6v1.4 M459.8 127.6v1.4 M461.8 127.6v1.4 M463.5 127.6v1.4" stroke="#777" stroke-width="0.7" fill="none"/>
<rect x="487.3" y="26" width="131.7" height="101.3" fill="none" stroke="#9c9c9c" stroke-width="1"/>
<path d="M487.3 26V127.3H619" fill="none" stroke="#777" stroke-width="1"/>
<path d="M484.7 127.3h2.6 M485.9 119.7h1.4 M485.9 115.2h1.4 M485.9 112.1h1.4 M485.9 109.6h1.4 M485.9 107.6h1.4 M485.9 105.9h1.4 M485.9 104.4h1.4 M485.9 103.1h1.4 M484.7 102.0h2.6 M485.9 94.4h1.4 M485.9 89.9h1.4 M485.9 86.7h1.4 M485.9 84.3h1.4 M485.9 82.3h1.4 M485.9 80.6h1.4 M485.9 79.1h1.4 M485.9 77.8h1.4 M484.7 76.7h2.6 M485.9 69.0h1.4 M485.9 64.6h1.4 M485.9 61.4h1.4 M485.9 58.9h1.4 M485.9 56.9h1.4 M485.9 55.2h1.4 M485.9 53.8h1.4 M485.9 52.5h1.4 M484.7 51.3h2.6 M485.9 43.7h1.4 M485.9 39.2h1.4 M485.9 36.1h1.4 M485.9 33.6h1.4 M485.9 31.6h1.4 M485.9 29.9h1.4 M485.9 28.5h1.4 M485.9 27.2h1.4 M487.3 127.3v2.6 M497.2 127.3v1.4 M503.0 127.3v1.4 M507.1 127.3v1.4 M510.3 127.3v1.4 M512.9 127.3v1.4 M515.1 127.3v1.4 M517.0 127.3v1.4 M518.7 127.3v1.4 M520.2 127.3v2.6 M530.1 127.3v1.4 M535.9 127.3v1.4 M540.0 127.3v1.4 M543.2 127.3v1.4 M545.8 127.3v1.4 M548.0 127.3v1.4 M550.0 127.3v1.4 M551.6 127.3v1.4 M553.1 127.3v2.6 M563.1 127.3v1.4 M568.9 127.3v1.4 M573.0 127.3v1.4 M576.2 127.3v1.4 M578.8 127.3v1.4 M581.0 127.3v1.4 M582.9 127.3v1.4 M584.6 127.3v1.4 M586.1 127.3v2.6 M596.0 127.3v1.4 M601.8 127.3v1.4 M605.9 127.3v1.4 M609.1 127.3v1.4 M611.7 127.3v1.4 M613.9 127.3v1.4 M615.8 127.3v1.4 M617.5 127.3v1.4" stroke="#777" stroke-width="0.7" fill="none"/>
<rect x="333.2" y="139" width="130.5" height="99.9" fill="none" stroke="#9c9c9c" stroke-width="1"/>
<path d="M333.2 139V238.9H463.7" fill="none" stroke="#777" stroke-width="1"/>
<path d="M330.6 238.9h2.6 M331.8 231.4h1.4 M331.8 227.0h1.4 M331.8 223.9h1.4 M331.8 221.4h1.4 M331.8 219.5h1.4 M331.8 217.8h1.4 M331.8 216.3h1.4 M331.8 215.1h1.4 M330.6 213.9h2.6 M331.8 206.4h1.4 M331.8 202.0h1.4 M331.8 198.9h1.4 M331.8 196.5h1.4 M331.8 194.5h1.4 M331.8 192.8h1.4 M331.8 191.4h1.4 M331.8 190.1h1.4 M330.6 188.9h2.6 M331.8 181.4h1.4 M331.8 177.0h1.4 M331.8 173.9h1.4 M331.8 171.5h1.4 M331.8 169.5h1.4 M331.8 167.8h1.4 M331.8 166.4h1.4 M331.8 165.1h1.4 M330.6 164.0h2.6 M331.8 156.5h1.4 M331.8 152.1h1.4 M331.8 148.9h1.4 M331.8 146.5h1.4 M331.8 144.5h1.4 M331.8 142.9h1.4 M331.8 141.4h1.4 M331.8 140.1h1.4 M333.2 238.9v2.6 M343.0 238.9v1.4 M348.8 238.9v1.4 M352.8 238.9v1.4 M356.0 238.9v1.4 M358.6 238.9v1.4 M360.8 238.9v1.4 M362.7 238.9v1.4 M364.3 238.9v1.4 M365.8 238.9v2.6 M375.6 238.9v1.4 M381.4 238.9v1.4 M385.5 238.9v1.4 M388.6 238.9v1.4 M391.2 238.9v1.4 M393.4 238.9v1.4 M395.3 238.9v1.4 M397.0 238.9v1.4 M398.4 238.9v2.6 M408.3 238.9v1.4 M414.0 238.9v1.4 M418.1 238.9v1.4 M421.3 238.9v1.4 M423.8 238.9v1.4 M426.0 238.9v1.4 M427.9 238.9v1.4 M429.6 238.9v1.4 M431.1 238.9v2.6 M440.9 238.9v1.4 M446.6 238.9v1.4 M450.7 238.9v1.4 M453.9 238.9v1.4 M456.5 238.9v1.4 M458.6 238.9v1.4 M460.5 238.9v1.4 M462.2 238.9v1.4" stroke="#777" stroke-width="0.7" fill="none"/>
<rect x="487.9" y="139.1" width="131.10000000000002" height="97.30000000000001" fill="none" stroke="#9c9c9c" stroke-width="1"/>
<path d="M487.9 139.1V236.4H619" fill="none" stroke="#777" stroke-width="1"/>
<path d="M485.3 236.4h2.6 M486.5 229.1h1.4 M486.5 224.8h1.4 M486.5 221.8h1.4 M486.5 219.4h1.4 M486.5 217.5h1.4 M486.5 215.8h1.4 M486.5 214.4h1.4 M486.5 213.2h1.4 M485.3 212.1h2.6 M486.5 204.8h1.4 M486.5 200.5h1.4 M486.5 197.4h1.4 M486.5 195.1h1.4 M486.5 193.1h1.4 M486.5 191.5h1.4 M486.5 190.1h1.4 M486.5 188.9h1.4 M485.3 187.8h2.6 M486.5 180.4h1.4 M486.5 176.1h1.4 M486.5 173.1h1.4 M486.5 170.7h1.4 M486.5 168.8h1.4 M486.5 167.2h1.4 M486.5 165.8h1.4 M486.5 164.5h1.4 M485.3 163.4h2.6 M486.5 156.1h1.4 M486.5 151.8h1.4 M486.5 148.8h1.4 M486.5 146.4h1.4 M486.5 144.5h1.4 M486.5 142.9h1.4 M486.5 141.5h1.4 M486.5 140.2h1.4 M487.9 236.4v2.6 M497.8 236.4v1.4 M503.5 236.4v1.4 M507.6 236.4v1.4 M510.8 236.4v1.4 M513.4 236.4v1.4 M515.6 236.4v1.4 M517.5 236.4v1.4 M519.2 236.4v1.4 M520.7 236.4v2.6 M530.5 236.4v1.4 M536.3 236.4v1.4 M540.4 236.4v1.4 M543.6 236.4v1.4 M546.2 236.4v1.4 M548.4 236.4v1.4 M550.3 236.4v1.4 M552.0 236.4v1.4 M553.5 236.4v2.6 M563.3 236.4v1.4 M569.1 236.4v1.4 M573.2 236.4v1.4 M576.4 236.4v1.4 M579.0 236.4v1.4 M581.1 236.4v1.4 M583.0 236.4v1.4 M584.7 236.4v1.4 M586.2 236.4v2.6 M596.1 236.4v1.4 M601.9 236.4v1.4 M606.0 236.4v1.4 M609.1 236.4v1.4 M611.7 236.4v1.4 M613.9 236.4v1.4 M615.8 236.4v1.4 M617.5 236.4v1.4" stroke="#777" stroke-width="0.7" fill="none"/>
<rect x="332.6" y="252.3" width="131.09999999999997" height="98.69999999999999" fill="none" stroke="#9c9c9c" stroke-width="1"/>
<path d="M332.6 252.3V351H463.7" fill="none" stroke="#777" stroke-width="1"/>
<path d="M330.0 351.0h2.6 M331.2 343.6h1.4 M331.2 339.2h1.4 M331.2 336.1h1.4 M331.2 333.8h1.4 M331.2 331.8h1.4 M331.2 330.1h1.4 M331.2 328.7h1.4 M331.2 327.5h1.4 M330.0 326.3h2.6 M331.2 318.9h1.4 M331.2 314.6h1.4 M331.2 311.5h1.4 M331.2 309.1h1.4 M331.2 307.1h1.4 M331.2 305.5h1.4 M331.2 304.0h1.4 M331.2 302.8h1.4 M330.0 301.6h2.6 M331.2 294.2h1.4 M331.2 289.9h1.4 M331.2 286.8h1.4 M331.2 284.4h1.4 M331.2 282.4h1.4 M331.2 280.8h1.4 M331.2 279.4h1.4 M331.2 278.1h1.4 M330.0 277.0h2.6 M331.2 269.5h1.4 M331.2 265.2h1.4 M331.2 262.1h1.4 M331.2 259.7h1.4 M331.2 257.8h1.4 M331.2 256.1h1.4 M331.2 254.7h1.4 M331.2 253.4h1.4 M332.6 351v2.6 M342.5 351v1.4 M348.2 351v1.4 M352.3 351v1.4 M355.5 351v1.4 M358.1 351v1.4 M360.3 351v1.4 M362.2 351v1.4 M363.9 351v1.4 M365.4 351v2.6 M375.2 351v1.4 M381.0 351v1.4 M385.1 351v1.4 M388.3 351v1.4 M390.9 351v1.4 M393.1 351v1.4 M395.0 351v1.4 M396.7 351v1.4 M398.1 351v2.6 M408.0 351v1.4 M413.8 351v1.4 M417.9 351v1.4 M421.1 351v1.4 M423.7 351v1.4 M425.8 351v1.4 M427.7 351v1.4 M429.4 351v1.4 M430.9 351v2.6 M440.8 351v1.4 M446.6 351v1.4 M450.7 351v1.4 M453.8 351v1.4 M456.4 351v1.4 M458.6 351v1.4 M460.5 351v1.4 M462.2 351v1.4" stroke="#777" stroke-width="0.7" fill="none"/>
<rect x="489.8" y="252.6" width="130.2" height="101.00000000000003" fill="none" stroke="#9c9c9c" stroke-width="1"/>
<path d="M489.8 252.6V353.6H620" fill="none" stroke="#777" stroke-width="1"/>
<path d="M487.2 353.6h2.6 M488.4 346.0h1.4 M488.4 341.6h1.4 M488.4 338.4h1.4 M488.4 336.0h1.4 M488.4 334.0h1.4 M488.4 332.3h1.4 M488.4 330.8h1.4 M488.4 329.5h1.4 M487.2 328.4h2.6 M488.4 320.7h1.4 M488.4 316.3h1.4 M488.4 313.1h1.4 M488.4 310.7h1.4 M488.4 308.7h1.4 M488.4 307.0h1.4 M488.4 305.5h1.4 M488.4 304.3h1.4 M487.2 303.1h2.6 M488.4 295.5h1.4 M488.4 291.1h1.4 M488.4 287.9h1.4 M488.4 285.5h1.4 M488.4 283.5h1.4 M488.4 281.8h1.4 M488.4 280.3h1.4 M488.4 279.0h1.4 M487.2 277.9h2.6 M488.4 270.2h1.4 M488.4 265.8h1.4 M488.4 262.6h1.4 M488.4 260.2h1.4 M488.4 258.2h1.4 M488.4 256.5h1.4 M488.4 255.0h1.4 M488.4 253.8h1.4 M489.8 353.6v2.6 M499.6 353.6v1.4 M505.3 353.6v1.4 M509.4 353.6v1.4 M512.6 353.6v1.4 M515.1 353.6v1.4 M517.3 353.6v1.4 M519.2 353.6v1.4 M520.9 353.6v1.4 M522.4 353.6v2.6 M532.1 353.6v1.4 M537.9 353.6v1.4 M541.9 353.6v1.4 M545.1 353.6v1.4 M547.7 353.6v1.4 M549.9 353.6v1.4 M551.7 353.6v1.4 M553.4 353.6v1.4 M554.9 353.6v2.6 M564.7 353.6v1.4 M570.4 353.6v1.4 M574.5 353.6v1.4 M577.7 353.6v1.4 M580.2 353.6v1.4 M582.4 353.6v1.4 M584.3 353.6v1.4 M586.0 353.6v1.4 M587.5 353.6v2.6 M597.2 353.6v1.4 M603.0 353.6v1.4 M607.0 353.6v1.4 M610.2 353.6v1.4 M612.8 353.6v1.4 M615.0 353.6v1.4 M616.8 353.6v1.4 M618.5 353.6v1.4" stroke="#777" stroke-width="0.7" fill="none"/>
<g stroke-width="1" opacity="0.8" filter="url(#bl)"><path d="M349 41.5h1M341 45.5h1M343 45.5h1M357 45.5h1M340 47.5h1M361 49.5h1M363 49.5h1M365 54.5h1M365 60.5h1M367 65.5h1M336 67.5h1M363 68.5h1M338 71.5h1M361 72.5h1M361 73.5h1M340 74.5h1M343 74.5h1M344 77.5h1M346 80.5h1M355 80.5h1M351 83.5h1" stroke="#bad4ba"/><path d="M348 42.5h1M347 43.5h1M348 44.5h1M348 45.5h1M351 45.5h1M353 45.5h1M346 47.5h1M354 47.5h1M355 47.5h1M343 48.5h1M344 48.5h1M357 48.5h1M346 49.5h1M347 49.5h1M343 50.5h1M345 50.5h1M345 51.5h1M344 52.5h1M340 53.5h1M341 53.5h1M359 53.5h1M362 53.5h1M339 54.5h1M361 54.5h1M362 54.5h1M341 56.5h1M339 57.5h1M340 57.5h1M341 57.5h1M360 57.5h1M361 58.5h1M340 59.5h1M341 60.5h1M340 61.5h1M361 61.5h1M360 63.5h1M360 64.5h1M342 65.5h1M342 66.5h1M343 66.5h1M361 66.5h1M361 67.5h1M342 69.5h1M360 69.5h1M342 70.5h1M344 72.5h1M358 73.5h1M345 74.5h1M347 74.5h1M356 74.5h1M355 75.5h1M356 75.5h1M348 76.5h1M350 76.5h1M352 76.5h1M353 76.5h1M357 76.5h1M346 77.5h1M348 77.5h1M349 80.5h1M351 80.5h1M353 80.5h1M350 81.5h1M352 81.5h1" stroke="#a3c7a5"/><path d="M350 47.5h1M352 47.5h1M353 47.5h1M348 48.5h1M349 48.5h1M350 48.5h1M351 48.5h1M352 48.5h1M354 48.5h1M349 49.5h1M355 49.5h1M356 49.5h1M357 50.5h1M358 51.5h1M358 52.5h1M343 53.5h1M344 54.5h1M358 54.5h1M344 55.5h1M359 55.5h1M342 57.5h1M342 58.5h1M359 59.5h1M342 60.5h1M343 62.5h1M359 63.5h1M344 64.5h1M359 65.5h1M344 66.5h1M359 66.5h1M343 67.5h1M358 67.5h1M343 68.5h1M358 68.5h1M343 69.5h1M344 69.5h1M344 70.5h1M345 71.5h1M357 71.5h1M346 72.5h1M355 72.5h1M356 72.5h1M357 72.5h1M347 73.5h1M352 74.5h1M353 74.5h1M351 75.5h1" stroke="#89b78d"/><path d="M349 50.5h1M350 50.5h1M354 50.5h1M355 50.5h1M347 51.5h1M355 51.5h1M356 51.5h1M356 52.5h1M357 53.5h1M345 54.5h1M357 54.5h1M345 55.5h1M357 55.5h1M344 56.5h1M345 56.5h1M344 57.5h1M344 58.5h1M358 58.5h1M359 61.5h1M344 62.5h1M358 62.5h1M358 63.5h1M357 64.5h1M358 64.5h1M345 65.5h1M357 65.5h1M358 65.5h1M357 67.5h1M345 68.5h1M346 68.5h1M357 68.5h1M345 69.5h1M357 69.5h1M346 70.5h1M346 71.5h1M347 71.5h1M354 71.5h1M355 71.5h1M356 71.5h1M347 72.5h1M353 72.5h1M349 73.5h1M352 73.5h1M349 74.5h1M351 74.5h1" stroke="#6ca672"/><path d="M352 50.5h1M353 50.5h1M348 51.5h1M350 51.5h1M347 52.5h1M355 52.5h1M355 53.5h1M346 54.5h1M356 54.5h1M346 55.5h1M346 56.5h1M357 56.5h1M357 57.5h1M345 58.5h1M357 58.5h1M344 59.5h1M358 59.5h1M344 60.5h1M344 61.5h1M357 61.5h1M358 61.5h1M357 62.5h1M345 63.5h1M346 64.5h1M356 64.5h1M346 65.5h1M355 65.5h1M346 66.5h1M356 66.5h1M347 67.5h1M356 67.5h1M355 68.5h1M356 68.5h1M355 69.5h1M356 69.5h1M347 70.5h1M348 70.5h1M353 70.5h1M354 70.5h1M355 70.5h1M356 70.5h1M348 71.5h1M349 71.5h1M350 71.5h1M351 71.5h1M352 71.5h1M353 71.5h1M349 72.5h1M350 72.5h1M351 72.5h1M352 72.5h1M350 73.5h1" stroke="#5e9e66"/><path d="M351 51.5h1M352 51.5h1M353 51.5h1M348 52.5h1M349 52.5h1M350 52.5h1M351 52.5h1M352 52.5h1M353 52.5h1M354 52.5h1M347 53.5h1M352 53.5h1M353 53.5h1M354 53.5h1M347 54.5h1M355 54.5h1M347 55.5h1M356 55.5h1M356 56.5h1M346 57.5h1M356 57.5h1M346 58.5h1M345 59.5h1M357 59.5h1M345 60.5h1M356 60.5h1M357 60.5h1M345 61.5h1M345 62.5h1M356 62.5h1M346 63.5h1M355 63.5h1M347 64.5h1M355 64.5h1M354 65.5h1M347 66.5h1M353 67.5h1M354 67.5h1M348 68.5h1M353 68.5h1M354 68.5h1M348 69.5h1M349 69.5h1M350 69.5h1M351 69.5h1M352 69.5h1M354 69.5h1M350 70.5h1M351 70.5h1M352 70.5h1" stroke="#50965a"/><path d="M348 53.5h1M349 53.5h1M351 53.5h1M348 54.5h1M350 54.5h1M351 54.5h1M354 54.5h1M348 55.5h1M351 55.5h1M355 55.5h1M347 56.5h1M355 56.5h1M355 57.5h1M355 58.5h1M346 59.5h1M355 59.5h1M356 59.5h1M346 60.5h1M355 60.5h1M346 61.5h1M355 61.5h1M346 62.5h1M347 62.5h1M355 62.5h1M347 63.5h1M348 64.5h1M354 64.5h1M348 65.5h1M353 65.5h1M348 66.5h1M353 66.5h1M349 67.5h1M352 67.5h1M350 68.5h1M351 68.5h1M352 68.5h1" stroke="#468e52"/><path d="M349 54.5h1M349 55.5h1M350 55.5h1M352 55.5h1M353 55.5h1M354 55.5h1M348 56.5h1M351 56.5h1M352 56.5h1M353 56.5h1M354 56.5h1M348 57.5h1M354 57.5h1M347 58.5h1M354 58.5h1M347 59.5h1M354 59.5h1M347 60.5h1M354 60.5h1M347 61.5h1M348 61.5h1M354 61.5h1M348 62.5h1M354 62.5h1M348 63.5h1M349 63.5h1M354 63.5h1M349 64.5h1M353 64.5h1M349 65.5h1M352 65.5h1M349 66.5h1M350 66.5h1M351 66.5h1M352 66.5h1M350 67.5h1M351 67.5h1" stroke="#3c864a"/><path d="M349 57.5h1M350 57.5h1M352 57.5h1M353 57.5h1M348 58.5h1M353 59.5h1M348 60.5h1M353 60.5h1M349 61.5h1M349 62.5h1M350 62.5h1M353 62.5h1M350 63.5h1M351 63.5h1M352 63.5h1M353 63.5h1M350 64.5h1M351 64.5h1M350 65.5h1M351 65.5h1" stroke="#327e42"/><path d="M351 57.5h1M349 58.5h1M351 58.5h1M352 58.5h1M349 59.5h1M352 59.5h1M349 60.5h1M352 60.5h1M350 61.5h1M351 61.5h1M352 61.5h1M353 61.5h1M351 62.5h1M352 62.5h1" stroke="#28763a"/><path d="M350 58.5h1M350 59.5h1M351 59.5h1M350 60.5h1M351 60.5h1" stroke="#1e6e32"/></g>
<g stroke-width="1" opacity="0.6" filter="url(#bl)"><path d="M379 33.5h1M363 38.5h1M355 40.5h1M353 41.5h1M357 43.5h1M370 44.5h1M387 44.5h1M363 46.5h1M363 47.5h1M374 49.5h1M352 50.5h1M364 50.5h1M391 51.5h1M382 52.5h1M362 54.5h1M382 55.5h1M392 55.5h1M358 56.5h1M372 57.5h1M382 58.5h1M371 59.5h1M382 60.5h1M363 62.5h1M380 62.5h1M367 64.5h1M376 64.5h1M373 66.5h1M376 69.5h1M359 71.5h1M362 71.5h1" stroke="#beb4be"/></g>
<g stroke-width="1" opacity="0.75" filter="url(#bl)"><path d="M565 32.5h1M550 34.5h1M550 35.5h1M567 35.5h1M556 36.5h1M545 37.5h1M556 37.5h1M564 37.5h1M547 38.5h1M549 39.5h1M553 39.5h1M525 40.5h1M556 40.5h1M567 40.5h1M533 41.5h1M543 41.5h1M549 41.5h1M569 41.5h1M576 41.5h1M558 42.5h1M560 42.5h1M583 42.5h1M530 43.5h1M546 43.5h1M555 43.5h1M559 43.5h1M571 43.5h1M528 44.5h1M537 44.5h1M548 44.5h1M551 44.5h1M552 44.5h1M561 44.5h1M566 44.5h1M567 44.5h1M538 45.5h1M539 45.5h1M541 45.5h1M546 45.5h1M552 45.5h1M555 45.5h1M529 46.5h1M539 46.5h1M545 46.5h1M549 46.5h1M553 46.5h1M565 46.5h1M523 47.5h1M529 47.5h1M546 47.5h1M547 47.5h1M549 47.5h1M525 48.5h1M530 48.5h1M533 48.5h1M538 48.5h1M539 48.5h1M540 48.5h1M545 48.5h1M548 48.5h1M553 48.5h1M560 48.5h1M530 49.5h1M539 49.5h1M547 49.5h1M548 49.5h1M549 49.5h1M562 49.5h1M520 50.5h1M523 50.5h1M524 50.5h1M526 50.5h1M540 50.5h1M556 50.5h1M557 50.5h1M558 50.5h1M565 50.5h1M566 50.5h1M578 50.5h1M525 51.5h1M529 51.5h1M532 51.5h1M533 51.5h1M535 51.5h1M540 51.5h1M553 51.5h1M556 51.5h1M558 51.5h1M560 51.5h1M564 51.5h1M519 52.5h1M528 52.5h1M529 52.5h1M531 52.5h1M536 52.5h1M545 52.5h1M550 52.5h1M553 52.5h1M522 53.5h1M526 53.5h1M533 53.5h1M550 53.5h1M553 53.5h1M558 53.5h1M569 53.5h1M521 54.5h1M522 54.5h1M528 54.5h1M530 54.5h1M534 54.5h1M535 54.5h1M540 54.5h1M541 54.5h1M542 54.5h1M544 54.5h1M546 54.5h1M549 54.5h1M551 54.5h1M552 54.5h1M564 54.5h1M567 54.5h1M523 55.5h1M530 55.5h1M537 55.5h1M540 55.5h1M541 55.5h1M546 55.5h1M552 55.5h1M571 55.5h1M518 56.5h1M525 56.5h1M526 56.5h1M528 56.5h1M531 56.5h1M532 56.5h1M535 56.5h1M537 56.5h1M538 56.5h1M539 56.5h1M546 56.5h1M554 56.5h1M521 57.5h1M523 57.5h1M525 57.5h1M530 57.5h1M534 57.5h1M535 57.5h1M540 57.5h1M542 57.5h1M547 57.5h1M548 57.5h1M551 57.5h1M555 57.5h1M557 57.5h1M562 57.5h1M518 58.5h1M519 58.5h1M521 58.5h1M527 58.5h1M528 58.5h1M529 58.5h1M531 58.5h1M532 58.5h1M536 58.5h1M539 58.5h1M543 58.5h1M557 58.5h1M518 59.5h1M520 59.5h1M522 59.5h1M526 59.5h1M529 59.5h1M534 59.5h1M535 59.5h1M536 59.5h1M538 59.5h1M539 59.5h1M542 59.5h1M551 59.5h1M555 59.5h1M556 59.5h1M557 59.5h1M568 59.5h1M519 60.5h1M520 60.5h1M526 60.5h1M529 60.5h1M531 60.5h1M536 60.5h1M544 60.5h1M546 60.5h1M547 60.5h1M554 60.5h1M518 61.5h1M522 61.5h1M523 61.5h1M528 61.5h1M533 61.5h1M535 61.5h1M541 61.5h1M545 61.5h1M557 61.5h1M519 62.5h1M523 62.5h1M526 62.5h1M529 62.5h1M530 62.5h1M531 62.5h1M532 62.5h1M533 62.5h1M542 62.5h1M543 62.5h1M551 62.5h1M555 62.5h1M519 63.5h1M523 63.5h1M525 63.5h1M526 63.5h1M528 63.5h1M533 63.5h1M538 63.5h1M543 63.5h1M551 63.5h1M552 63.5h1M521 64.5h1M522 64.5h1M531 64.5h1M532 64.5h1M533 64.5h1M542 64.5h1M543 64.5h1M545 64.5h1M518 65.5h1M519 65.5h1M526 65.5h1M529 65.5h1M531 65.5h1M536 65.5h1M544 65.5h1M519 66.5h1M523 66.5h1M529 66.5h1M531 66.5h1M533 66.5h1M537 66.5h1M548 66.5h1M518 67.5h1M525 67.5h1M530 67.5h1M531 67.5h1M537 67.5h1M540 67.5h1M520 68.5h1M526 68.5h1M527 68.5h1M528 68.5h1M538 68.5h1M541 68.5h1M543 68.5h1M544 68.5h1M569 68.5h1M520 69.5h1M521 69.5h1M523 69.5h1M529 69.5h1M531 69.5h1M535 69.5h1M518 70.5h1M521 70.5h1M531 70.5h1M533 70.5h1M535 70.5h1M519 71.5h1M522 71.5h1M534 71.5h1M541 71.5h1M519 72.5h1M520 72.5h1M521 72.5h1M527 72.5h1M538 72.5h1M543 72.5h1M518 73.5h1M521 74.5h1M546 74.5h1M521 75.5h1M540 75.5h1M519 76.5h1M531 76.5h1M522 77.5h1M534 77.5h1M521 80.5h1M531 80.5h1" stroke="#d78287"/><path d="M529 35.5h1M573 35.5h1M540 36.5h1M578 37.5h1M555 38.5h1M552 39.5h1M556 39.5h1M561 39.5h1M540 40.5h1M549 40.5h1M544 41.5h1M551 41.5h1M564 41.5h1M550 42.5h1M571 42.5h1M536 43.5h1M542 43.5h1M547 43.5h1M550 43.5h1M554 43.5h1M566 43.5h1M541 44.5h1M542 44.5h1M536 45.5h1M551 45.5h1M559 45.5h1M560 45.5h1M573 45.5h1M532 46.5h1M534 46.5h1M537 46.5h1M546 46.5h1M555 46.5h1M560 46.5h1M521 47.5h1M524 47.5h1M526 47.5h1M550 47.5h1M551 47.5h1M531 48.5h1M536 48.5h1M541 48.5h1M549 48.5h1M550 48.5h1M556 48.5h1M557 48.5h1M519 49.5h1M526 49.5h1M527 49.5h1M528 49.5h1M535 49.5h1M536 49.5h1M542 49.5h1M543 49.5h1M545 49.5h1M556 49.5h1M565 49.5h1M530 50.5h1M531 50.5h1M542 50.5h1M547 50.5h1M548 50.5h1M551 50.5h1M552 50.5h1M560 50.5h1M562 50.5h1M563 50.5h1M573 50.5h1M527 51.5h1M531 51.5h1M538 51.5h1M539 51.5h1M542 51.5h1M546 51.5h1M548 51.5h1M549 51.5h1M550 51.5h1M557 51.5h1M559 51.5h1M567 51.5h1M521 52.5h1M534 52.5h1M535 52.5h1M541 52.5h1M542 52.5h1M543 52.5h1M544 52.5h1M548 52.5h1M549 52.5h1M554 52.5h1M555 52.5h1M560 52.5h1M561 52.5h1M567 52.5h1M518 53.5h1M519 53.5h1M521 53.5h1M531 53.5h1M535 53.5h1M536 53.5h1M543 53.5h1M544 53.5h1M556 53.5h1M562 53.5h1M518 54.5h1M519 54.5h1M524 54.5h1M529 54.5h1M533 54.5h1M537 54.5h1M538 54.5h1M543 54.5h1M545 54.5h1M550 54.5h1M554 54.5h1M555 54.5h1M558 54.5h1M560 54.5h1M563 54.5h1M566 54.5h1M568 54.5h1M520 55.5h1M524 55.5h1M525 55.5h1M527 55.5h1M532 55.5h1M536 55.5h1M542 55.5h1M544 55.5h1M547 55.5h1M549 55.5h1M550 55.5h1M555 55.5h1M519 56.5h1M522 56.5h1M533 56.5h1M534 56.5h1M536 56.5h1M541 56.5h1M542 56.5h1M547 56.5h1M549 56.5h1M551 56.5h1M553 56.5h1M566 56.5h1M518 57.5h1M519 57.5h1M527 57.5h1M528 57.5h1M533 57.5h1M537 57.5h1M539 57.5h1M541 57.5h1M544 57.5h1M546 57.5h1M550 57.5h1M552 57.5h1M553 57.5h1M523 58.5h1M524 58.5h1M525 58.5h1M526 58.5h1M530 58.5h1M534 58.5h1M535 58.5h1M537 58.5h1M538 58.5h1M540 58.5h1M541 58.5h1M548 58.5h1M549 58.5h1M550 58.5h1M554 58.5h1M560 58.5h1M562 58.5h1M523 59.5h1M524 59.5h1M527 59.5h1M528 59.5h1M531 59.5h1M532 59.5h1M537 59.5h1M544 59.5h1M547 59.5h1M548 59.5h1M521 60.5h1M522 60.5h1M524 60.5h1M525 60.5h1M527 60.5h1M528 60.5h1M532 60.5h1M534 60.5h1M540 60.5h1M545 60.5h1M548 60.5h1M549 60.5h1M550 60.5h1M551 60.5h1M566 60.5h1M520 61.5h1M526 61.5h1M527 61.5h1M530 61.5h1M536 61.5h1M537 61.5h1M538 61.5h1M547 61.5h1M548 61.5h1M551 61.5h1M553 61.5h1M520 62.5h1M522 62.5h1M525 62.5h1M527 62.5h1M528 62.5h1M545 62.5h1M550 62.5h1M553 62.5h1M562 62.5h1M518 63.5h1M520 63.5h1M521 63.5h1M527 63.5h1M530 63.5h1M539 63.5h1M542 63.5h1M545 63.5h1M518 64.5h1M519 64.5h1M523 64.5h1M525 64.5h1M534 64.5h1M537 64.5h1M540 64.5h1M546 64.5h1M549 64.5h1M552 64.5h1M522 65.5h1M523 65.5h1M537 65.5h1M540 65.5h1M545 65.5h1M518 66.5h1M520 66.5h1M522 66.5h1M527 66.5h1M535 66.5h1M544 66.5h1M520 67.5h1M523 67.5h1M524 67.5h1M526 67.5h1M528 67.5h1M532 67.5h1M539 67.5h1M542 67.5h1M518 68.5h1M519 68.5h1M523 68.5h1M533 68.5h1M537 68.5h1M518 69.5h1M525 69.5h1M533 69.5h1M541 69.5h1M547 69.5h1M519 70.5h1M520 70.5h1M522 70.5h1M523 70.5h1M526 70.5h1M527 70.5h1M537 70.5h1M524 71.5h1M527 71.5h1M529 71.5h1M538 71.5h1M524 72.5h1M532 72.5h1M535 72.5h1M550 72.5h1M551 72.5h1M531 73.5h1M538 73.5h1M526 74.5h1M518 75.5h1M529 76.5h1M539 76.5h1M530 77.5h1M531 77.5h1M524 79.5h1M529 79.5h1" stroke="#c3646e"/><path d="M514 46.5h1M515 49.5h1M517 49.5h1M507 50.5h1M512 50.5h1M511 51.5h1M516 51.5h1M501 52.5h1M507 53.5h1M511 53.5h1M515 53.5h1M494 55.5h1M505 55.5h1M510 55.5h1M511 55.5h1M513 55.5h1M516 55.5h1M502 56.5h1M504 56.5h1M510 56.5h1M512 56.5h1M513 56.5h1M516 56.5h1M517 56.5h1M507 57.5h1M513 57.5h1M514 57.5h1M502 58.5h1M503 58.5h1M505 58.5h1M515 58.5h1M516 58.5h1M503 59.5h1M504 59.5h1M512 59.5h1M516 59.5h1M495 60.5h1M501 60.5h1M502 60.5h1M503 60.5h1M507 60.5h1M509 60.5h1M510 60.5h1M511 60.5h1M497 61.5h1M509 61.5h1M510 61.5h1M511 61.5h1M513 61.5h1M514 61.5h1M515 61.5h1M516 61.5h1M500 62.5h1M502 62.5h1M505 62.5h1M508 62.5h1M509 62.5h1M516 62.5h1M499 63.5h1M500 63.5h1M502 63.5h1M503 63.5h1M506 63.5h1M508 63.5h1M513 63.5h1M515 63.5h1M516 63.5h1M494 64.5h1M500 64.5h1M501 64.5h1M504 64.5h1M505 64.5h1M511 64.5h1M512 64.5h1M516 64.5h1M517 64.5h1M494 65.5h1M496 65.5h1M497 65.5h1M502 65.5h1M505 65.5h1M506 65.5h1M507 65.5h1M510 65.5h1M511 65.5h1M513 65.5h1M515 65.5h1M499 66.5h1M500 66.5h1M501 66.5h1M507 66.5h1M510 66.5h1M513 66.5h1M514 66.5h1M516 66.5h1M517 66.5h1M501 67.5h1M507 67.5h1M509 67.5h1M510 67.5h1M511 67.5h1M512 67.5h1M513 67.5h1M514 67.5h1M517 67.5h1M494 68.5h1M496 68.5h1M499 68.5h1M500 68.5h1M507 68.5h1M503 69.5h1M508 69.5h1M502 70.5h1M506 70.5h1M513 70.5h1M514 70.5h1M517 70.5h1M501 71.5h1M508 71.5h1M513 71.5h1M503 72.5h1M506 72.5h1M507 72.5h1M510 72.5h1M513 72.5h1M515 72.5h1M503 73.5h1M506 73.5h1M507 73.5h1M513 73.5h1M514 73.5h1M517 73.5h1M506 74.5h1M507 74.5h1M510 74.5h1M503 75.5h1M508 75.5h1M514 75.5h1M503 76.5h1M505 76.5h1M500 77.5h1M507 78.5h1M514 78.5h1M503 81.5h1M495 82.5h1" stroke="#5a965f"/><path d="M506 47.5h1M507 48.5h1M515 48.5h1M511 49.5h1M505 50.5h1M506 51.5h1M512 51.5h1M513 51.5h1M507 52.5h1M516 52.5h1M517 52.5h1M504 53.5h1M516 53.5h1M517 53.5h1M503 54.5h1M504 54.5h1M505 54.5h1M506 54.5h1M507 54.5h1M512 54.5h1M513 54.5h1M500 55.5h1M504 55.5h1M507 55.5h1M514 55.5h1M515 55.5h1M498 56.5h1M505 56.5h1M504 57.5h1M509 57.5h1M511 57.5h1M512 57.5h1M515 57.5h1M517 57.5h1M494 58.5h1M509 58.5h1M511 58.5h1M512 58.5h1M514 58.5h1M517 58.5h1M499 59.5h1M500 59.5h1M501 59.5h1M502 59.5h1M509 59.5h1M510 59.5h1M511 59.5h1M515 59.5h1M517 59.5h1M504 60.5h1M505 60.5h1M508 60.5h1M514 60.5h1M515 60.5h1M516 60.5h1M517 60.5h1M498 61.5h1M502 61.5h1M505 61.5h1M506 61.5h1M507 61.5h1M512 61.5h1M517 61.5h1M494 62.5h1M499 62.5h1M503 62.5h1M504 62.5h1M506 62.5h1M510 62.5h1M511 62.5h1M512 62.5h1M514 62.5h1M515 62.5h1M517 62.5h1M493 63.5h1M494 63.5h1M497 63.5h1M498 63.5h1M504 63.5h1M509 63.5h1M514 63.5h1M507 64.5h1M508 64.5h1M510 64.5h1M513 64.5h1M515 64.5h1M491 65.5h1M498 65.5h1M503 65.5h1M504 65.5h1M508 65.5h1M509 65.5h1M514 65.5h1M516 65.5h1M491 66.5h1M498 66.5h1M503 66.5h1M504 66.5h1M505 66.5h1M508 66.5h1M509 66.5h1M511 66.5h1M512 66.5h1M515 66.5h1M492 67.5h1M497 67.5h1M502 67.5h1M504 67.5h1M506 67.5h1M515 67.5h1M516 67.5h1M505 68.5h1M508 68.5h1M509 68.5h1M512 68.5h1M514 68.5h1M515 68.5h1M516 68.5h1M502 69.5h1M505 69.5h1M506 69.5h1M509 69.5h1M510 69.5h1M511 69.5h1M514 69.5h1M492 70.5h1M507 70.5h1M508 70.5h1M509 70.5h1M510 70.5h1M492 71.5h1M504 71.5h1M506 71.5h1M509 71.5h1M512 71.5h1M514 71.5h1M498 72.5h1M508 72.5h1M511 72.5h1M498 73.5h1M500 73.5h1M511 73.5h1M500 74.5h1M508 74.5h1M501 75.5h1M506 75.5h1M507 75.5h1M510 75.5h1M513 76.5h1M507 77.5h1M515 79.5h1M502 82.5h1M512 83.5h1M489 84.5h1" stroke="#78aa78"/></g>
<g stroke-width="1" opacity="0.9" filter="url(#bl)"><path d="M350 166.5h1M355 168.5h1M335 170.5h1M342 170.5h1M346 170.5h1M363 170.5h1M343 171.5h1M350 171.5h1M334 172.5h1M336 172.5h1M340 172.5h1M349 172.5h1M350 172.5h1M351 172.5h1M334 173.5h1M337 173.5h1M341 173.5h1M346 173.5h1M350 173.5h1M352 173.5h1M353 173.5h1M359 173.5h1M354 174.5h1M356 174.5h1M352 175.5h1M354 175.5h1M355 175.5h1M356 175.5h1M354 176.5h1M370 176.5h1M358 177.5h1M362 177.5h1M366 177.5h1M359 178.5h1M359 179.5h1M359 180.5h1M363 180.5h1M358 182.5h1M359 182.5h1M362 183.5h1M360 184.5h1M361 184.5h1M362 184.5h1M362 186.5h1M361 187.5h1M362 187.5h1M364 187.5h1M370 187.5h1M361 188.5h1M367 188.5h1M359 189.5h1M360 189.5h1M358 190.5h1M366 190.5h1M355 191.5h1M356 191.5h1M353 192.5h1M354 192.5h1M356 192.5h1M352 193.5h1M349 195.5h1M351 195.5h1M344 196.5h1M348 196.5h1M342 197.5h1M343 197.5h1M347 197.5h1M356 197.5h1M336 198.5h1M338 198.5h1M341 198.5h1M344 198.5h1M345 198.5h1M350 198.5h1M337 199.5h1M338 199.5h1M339 199.5h1M341 199.5h1M350 201.5h1" stroke="#3c50c8"/><path d="M347 173.5h1M348 173.5h1M349 173.5h1M335 174.5h1M337 174.5h1M338 174.5h1M342 174.5h1M346 174.5h1M348 174.5h1M334 175.5h1M335 175.5h1M336 175.5h1M338 175.5h1M341 175.5h1M342 175.5h1M344 175.5h1M347 175.5h1M348 175.5h1M349 175.5h1M350 175.5h1M337 176.5h1M338 176.5h1M339 176.5h1M340 176.5h1M341 176.5h1M342 176.5h1M343 176.5h1M344 176.5h1M345 176.5h1M346 176.5h1M347 176.5h1M348 176.5h1M349 176.5h1M350 176.5h1M351 176.5h1M334 177.5h1M348 177.5h1M349 177.5h1M350 177.5h1M354 177.5h1M355 177.5h1M356 177.5h1M349 178.5h1M350 178.5h1M353 178.5h1M356 178.5h1M358 178.5h1M350 179.5h1M351 179.5h1M352 179.5h1M353 179.5h1M354 179.5h1M355 179.5h1M356 179.5h1M357 179.5h1M358 179.5h1M351 180.5h1M353 180.5h1M354 180.5h1M355 180.5h1M357 180.5h1M352 181.5h1M353 181.5h1M355 181.5h1M356 181.5h1M357 181.5h1M353 182.5h1M354 182.5h1M355 182.5h1M354 183.5h1M355 183.5h1M356 183.5h1M357 183.5h1M354 184.5h1M356 184.5h1M357 184.5h1M353 185.5h1M354 185.5h1M355 185.5h1M356 185.5h1M357 185.5h1M361 185.5h1M354 186.5h1M355 186.5h1M357 186.5h1M359 186.5h1M361 186.5h1M352 187.5h1M353 187.5h1M356 187.5h1M359 187.5h1M351 188.5h1M352 188.5h1M354 188.5h1M355 188.5h1M356 188.5h1M357 188.5h1M350 189.5h1M352 189.5h1M353 189.5h1M355 189.5h1M356 189.5h1M349 190.5h1M350 190.5h1M352 190.5h1M353 190.5h1M347 191.5h1M348 191.5h1M349 191.5h1M350 191.5h1M353 191.5h1M354 191.5h1M346 192.5h1M347 192.5h1M348 192.5h1M334 193.5h1M344 193.5h1M345 193.5h1M346 193.5h1M347 193.5h1M348 193.5h1M349 193.5h1M334 194.5h1M341 194.5h1M342 194.5h1M343 194.5h1M344 194.5h1M346 194.5h1M349 194.5h1M334 195.5h1M335 195.5h1M336 195.5h1M338 195.5h1M339 195.5h1M340 195.5h1M341 195.5h1M345 195.5h1M334 196.5h1M335 196.5h1M336 196.5h1M338 196.5h1M339 196.5h1M340 196.5h1M339 197.5h1" stroke="#375dcd"/><path d="M335 177.5h1M336 177.5h1M337 177.5h1M338 177.5h1M339 177.5h1M341 177.5h1M342 177.5h1M343 177.5h1M344 177.5h1M345 177.5h1M346 177.5h1M347 177.5h1M334 178.5h1M335 178.5h1M341 178.5h1M342 178.5h1M343 178.5h1M344 178.5h1M345 178.5h1M346 178.5h1M347 178.5h1M348 178.5h1M334 179.5h1M344 179.5h1M345 179.5h1M346 179.5h1M347 179.5h1M348 179.5h1M349 179.5h1M347 180.5h1M348 180.5h1M349 180.5h1M350 180.5h1M348 181.5h1M349 181.5h1M350 181.5h1M351 181.5h1M349 182.5h1M350 182.5h1M351 182.5h1M352 182.5h1M349 183.5h1M350 183.5h1M351 183.5h1M352 183.5h1M353 183.5h1M349 184.5h1M350 184.5h1M351 184.5h1M352 184.5h1M353 184.5h1M349 185.5h1M350 185.5h1M351 185.5h1M352 185.5h1M349 186.5h1M351 186.5h1M352 186.5h1M349 187.5h1M350 187.5h1M351 187.5h1M347 188.5h1M348 188.5h1M349 188.5h1M350 188.5h1M345 189.5h1M346 189.5h1M347 189.5h1M348 189.5h1M349 189.5h1M344 190.5h1M345 190.5h1M346 190.5h1M347 190.5h1M343 191.5h1M344 191.5h1M345 191.5h1M346 191.5h1M334 192.5h1M340 192.5h1M341 192.5h1M342 192.5h1M343 192.5h1M344 192.5h1M345 192.5h1M335 193.5h1M336 193.5h1M337 193.5h1M338 193.5h1M339 193.5h1M340 193.5h1M341 193.5h1M343 193.5h1M335 194.5h1M336 194.5h1M337 194.5h1M338 194.5h1M339 194.5h1" stroke="#326ad2"/><path d="M336 178.5h1M337 178.5h1M338 178.5h1M339 178.5h1M340 178.5h1M335 179.5h1M336 179.5h1M340 179.5h1M341 179.5h1M342 179.5h1M343 179.5h1M334 180.5h1M335 180.5h1M343 180.5h1M344 180.5h1M345 180.5h1M346 180.5h1M334 181.5h1M344 181.5h1M345 181.5h1M346 181.5h1M347 181.5h1M346 182.5h1M347 182.5h1M348 182.5h1M347 183.5h1M348 183.5h1M347 184.5h1M348 184.5h1M347 185.5h1M348 185.5h1M347 186.5h1M348 186.5h1M346 187.5h1M347 187.5h1M348 187.5h1M344 188.5h1M345 188.5h1M346 188.5h1M343 189.5h1M344 189.5h1M334 190.5h1M341 190.5h1M342 190.5h1M343 190.5h1M334 191.5h1M335 191.5h1M339 191.5h1M340 191.5h1M341 191.5h1M342 191.5h1M335 192.5h1M336 192.5h1M337 192.5h1M338 192.5h1M339 192.5h1" stroke="#2d78d7"/><path d="M337 179.5h1M338 179.5h1M339 179.5h1M336 180.5h1M337 180.5h1M338 180.5h1M339 180.5h1M340 180.5h1M341 180.5h1M342 180.5h1M335 181.5h1M342 181.5h1M343 181.5h1M334 182.5h1M343 182.5h1M344 182.5h1M345 182.5h1M334 183.5h1M344 183.5h1M345 183.5h1M346 183.5h1M345 184.5h1M346 184.5h1M345 185.5h1M346 185.5h1M345 186.5h1M346 186.5h1M343 187.5h1M344 187.5h1M345 187.5h1M334 188.5h1M342 188.5h1M343 188.5h1M334 189.5h1M340 189.5h1M341 189.5h1M342 189.5h1M335 190.5h1M338 190.5h1M339 190.5h1M340 190.5h1M336 191.5h1M337 191.5h1M338 191.5h1" stroke="#2891d4"/><path d="M336 181.5h1M337 181.5h1M338 181.5h1M339 181.5h1M340 181.5h1M341 181.5h1M335 182.5h1M336 182.5h1M341 182.5h1M342 182.5h1M342 183.5h1M343 183.5h1M334 184.5h1M343 184.5h1M344 184.5h1M334 185.5h1M343 185.5h1M344 185.5h1M334 186.5h1M342 186.5h1M343 186.5h1M344 186.5h1M334 187.5h1M341 187.5h1M342 187.5h1M335 188.5h1M339 188.5h1M340 188.5h1M341 188.5h1M335 189.5h1M336 189.5h1M337 189.5h1M338 189.5h1M339 189.5h1M336 190.5h1M337 190.5h1" stroke="#23aad2"/><path d="M337 182.5h1M338 182.5h1M339 182.5h1M340 182.5h1M335 183.5h1M336 183.5h1M337 183.5h1M338 183.5h1M339 183.5h1M340 183.5h1M341 183.5h1M335 184.5h1M340 184.5h1M341 184.5h1M342 184.5h1M335 185.5h1M341 185.5h1M342 185.5h1M335 186.5h1M339 186.5h1M340 186.5h1M341 186.5h1M335 187.5h1M336 187.5h1M337 187.5h1M338 187.5h1M339 187.5h1M340 187.5h1M336 188.5h1M337 188.5h1M338 188.5h1" stroke="#34b6aa"/><path d="M336 184.5h1M337 184.5h1M338 184.5h1M339 184.5h1M336 185.5h1M337 185.5h1M338 185.5h1M339 185.5h1M340 185.5h1M336 186.5h1M337 186.5h1M338 186.5h1" stroke="#46c382"/></g>
<path d="M334 176.5h1M334 178.5h1M334 180.5h1M334 182.5h1M334 184.5h1M334 186.5h1M334 188.5h1M334 190.5h1M334 192.5h1M334 194.5h1M334 196.5h1" stroke="#9c8" stroke-width="1"/>
<g stroke-width="1" opacity="0.6" filter="url(#bl)"><path d="M377 153.5h1M381 161.5h1M365 163.5h1M350 169.5h1M370 172.5h1M385 172.5h1M410 172.5h1M376 174.5h1M388 174.5h1M403 174.5h1M407 175.5h1M361 177.5h1M372 180.5h1M393 180.5h1M383 181.5h1M394 181.5h1M402 181.5h1M354 182.5h1M366 182.5h1M380 182.5h1M376 183.5h1M411 185.5h1M391 186.5h1M355 187.5h1M373 187.5h1M387 188.5h1M390 188.5h1M396 188.5h1M394 189.5h1M350 190.5h1M386 190.5h1M391 190.5h1M372 191.5h1M383 192.5h1M355 193.5h1M374 193.5h1M381 193.5h1M390 193.5h1M403 193.5h1M372 194.5h1M389 196.5h1M407 196.5h1M389 200.5h1M399 207.5h1M388 208.5h1M404 208.5h1M409 209.5h1M401 213.5h1M367 214.5h1" stroke="#aaaac8"/></g>
<g stroke-width="1" opacity="0.9" filter="url(#bl)"><path d="M544 166.5h1M548 166.5h1M519 168.5h1M568 169.5h1M523 170.5h1M536 170.5h1M540 170.5h1M549 170.5h1M556 170.5h1M498 171.5h1M505 171.5h1M509 171.5h1M528 171.5h1M537 171.5h1M559 171.5h1M497 172.5h1M503 172.5h1M508 172.5h1M517 172.5h1M521 172.5h1M540 172.5h1M542 172.5h1M544 172.5h1M547 172.5h1M549 172.5h1M552 172.5h1M545 173.5h1M554 173.5h1M562 173.5h1M496 174.5h1M504 174.5h1M556 174.5h1M559 174.5h1M564 174.5h1M494 175.5h1M499 175.5h1M561 175.5h1M494 176.5h1M556 176.5h1M558 176.5h1M566 176.5h1M489 177.5h1M493 177.5h1M558 177.5h1M559 178.5h1M558 179.5h1M559 179.5h1M569 179.5h1M570 180.5h1M488 181.5h1M559 181.5h1M558 182.5h1M561 182.5h1M568 182.5h1M561 183.5h1M561 184.5h1M559 185.5h1M566 185.5h1M568 185.5h1M565 186.5h1M552 187.5h1M560 187.5h1M552 188.5h1M553 188.5h1M557 188.5h1M549 190.5h1M562 190.5h1M559 191.5h1M558 192.5h1M537 193.5h1M540 193.5h1M541 193.5h1M545 193.5h1M488 196.5h1M490 196.5h1M499 196.5h1M504 196.5h1M523 196.5h1M543 196.5h1M494 197.5h1M495 197.5h1M516 197.5h1M517 197.5h1M524 197.5h1M497 198.5h1M499 198.5h1M503 198.5h1M510 198.5h1M512 198.5h1M510 199.5h1M513 199.5h1M504 200.5h1M506 200.5h1M514 200.5h1M536 200.5h1M501 201.5h1M513 202.5h1M532 206.5h1" stroke="#4558ca"/><path d="M525 171.5h1M526 171.5h1M511 172.5h1M522 172.5h1M523 172.5h1M527 172.5h1M534 172.5h1M512 173.5h1M513 173.5h1M515 173.5h1M516 173.5h1M524 173.5h1M526 173.5h1M530 173.5h1M533 173.5h1M535 173.5h1M543 173.5h1M506 174.5h1M508 174.5h1M509 174.5h1M510 174.5h1M516 174.5h1M520 174.5h1M524 174.5h1M528 174.5h1M529 174.5h1M531 174.5h1M532 174.5h1M533 174.5h1M535 174.5h1M538 174.5h1M540 174.5h1M542 174.5h1M544 174.5h1M547 174.5h1M548 174.5h1M549 174.5h1M496 175.5h1M498 175.5h1M506 175.5h1M507 175.5h1M509 175.5h1M510 175.5h1M511 175.5h1M514 175.5h1M515 175.5h1M517 175.5h1M519 175.5h1M521 175.5h1M523 175.5h1M536 175.5h1M538 175.5h1M540 175.5h1M548 175.5h1M550 175.5h1M554 175.5h1M497 176.5h1M498 176.5h1M501 176.5h1M503 176.5h1M504 176.5h1M508 176.5h1M540 176.5h1M541 176.5h1M542 176.5h1M543 176.5h1M544 176.5h1M546 176.5h1M548 176.5h1M551 176.5h1M553 176.5h1M554 176.5h1M502 177.5h1M505 177.5h1M506 177.5h1M507 177.5h1M544 177.5h1M545 177.5h1M548 177.5h1M549 177.5h1M551 177.5h1M553 177.5h1M496 178.5h1M497 178.5h1M546 178.5h1M549 178.5h1M552 178.5h1M553 178.5h1M554 178.5h1M555 178.5h1M490 179.5h1M491 179.5h1M492 179.5h1M493 179.5h1M499 179.5h1M552 179.5h1M489 180.5h1M490 180.5h1M494 180.5h1M552 180.5h1M555 180.5h1M490 181.5h1M492 181.5h1M551 181.5h1M553 181.5h1M554 181.5h1M556 181.5h1M491 182.5h1M550 182.5h1M552 182.5h1M554 182.5h1M488 183.5h1M551 183.5h1M554 183.5h1M556 183.5h1M488 184.5h1M489 184.5h1M490 184.5h1M551 184.5h1M552 184.5h1M554 184.5h1M556 184.5h1M557 184.5h1M489 185.5h1M550 185.5h1M551 185.5h1M555 185.5h1M556 185.5h1M558 185.5h1M488 186.5h1M544 186.5h1M545 186.5h1M549 186.5h1M556 186.5h1M543 187.5h1M546 187.5h1M547 187.5h1M556 187.5h1M540 188.5h1M542 188.5h1M543 188.5h1M545 188.5h1M547 188.5h1M549 188.5h1M556 188.5h1M539 189.5h1M543 189.5h1M489 190.5h1M538 190.5h1M539 190.5h1M541 190.5h1M543 190.5h1M545 190.5h1M488 191.5h1M527 191.5h1M536 191.5h1M539 191.5h1M488 192.5h1M490 192.5h1M491 192.5h1M492 192.5h1M493 192.5h1M494 192.5h1M525 192.5h1M526 192.5h1M527 192.5h1M529 192.5h1M534 192.5h1M538 192.5h1M545 192.5h1M490 193.5h1M491 193.5h1M494 193.5h1M495 193.5h1M496 193.5h1M512 193.5h1M513 193.5h1M514 193.5h1M520 193.5h1M521 193.5h1M522 193.5h1M523 193.5h1M524 193.5h1M528 193.5h1M529 193.5h1M530 193.5h1M532 193.5h1M533 193.5h1M535 193.5h1M536 193.5h1M489 194.5h1M491 194.5h1M492 194.5h1M494 194.5h1M496 194.5h1M497 194.5h1M500 194.5h1M501 194.5h1M502 194.5h1M506 194.5h1M510 194.5h1M512 194.5h1M514 194.5h1M515 194.5h1M517 194.5h1M518 194.5h1M519 194.5h1M521 194.5h1M522 194.5h1M523 194.5h1M525 194.5h1M526 194.5h1M527 194.5h1M532 194.5h1M533 194.5h1M490 195.5h1M491 195.5h1M495 195.5h1M497 195.5h1M501 195.5h1M507 195.5h1M511 195.5h1M513 195.5h1M515 195.5h1M517 195.5h1M518 195.5h1M520 195.5h1M494 196.5h1M497 196.5h1M501 196.5h1M505 196.5h1M506 196.5h1M509 196.5h1M511 196.5h1" stroke="#3d62ce"/><path d="M530 174.5h1M525 175.5h1M526 175.5h1M527 175.5h1M528 175.5h1M529 175.5h1M530 175.5h1M531 175.5h1M532 175.5h1M533 175.5h1M534 175.5h1M511 176.5h1M512 176.5h1M513 176.5h1M514 176.5h1M518 176.5h1M519 176.5h1M520 176.5h1M522 176.5h1M523 176.5h1M524 176.5h1M525 176.5h1M526 176.5h1M527 176.5h1M528 176.5h1M529 176.5h1M531 176.5h1M532 176.5h1M533 176.5h1M535 176.5h1M536 176.5h1M538 176.5h1M539 176.5h1M508 177.5h1M509 177.5h1M510 177.5h1M513 177.5h1M514 177.5h1M515 177.5h1M516 177.5h1M517 177.5h1M518 177.5h1M524 177.5h1M533 177.5h1M534 177.5h1M535 177.5h1M541 177.5h1M542 177.5h1M501 178.5h1M502 178.5h1M503 178.5h1M504 178.5h1M505 178.5h1M506 178.5h1M507 178.5h1M508 178.5h1M540 178.5h1M541 178.5h1M542 178.5h1M543 178.5h1M550 178.5h1M551 178.5h1M496 179.5h1M497 179.5h1M502 179.5h1M503 179.5h1M504 179.5h1M505 179.5h1M543 179.5h1M544 179.5h1M545 179.5h1M546 179.5h1M547 179.5h1M548 179.5h1M549 179.5h1M550 179.5h1M551 179.5h1M495 180.5h1M496 180.5h1M497 180.5h1M498 180.5h1M500 180.5h1M543 180.5h1M544 180.5h1M545 180.5h1M546 180.5h1M547 180.5h1M548 180.5h1M549 180.5h1M551 180.5h1M493 181.5h1M494 181.5h1M495 181.5h1M545 181.5h1M546 181.5h1M547 181.5h1M548 181.5h1M492 182.5h1M493 182.5h1M545 182.5h1M546 182.5h1M547 182.5h1M548 182.5h1M491 183.5h1M492 183.5h1M544 183.5h1M545 183.5h1M546 183.5h1M547 183.5h1M548 183.5h1M549 183.5h1M491 184.5h1M492 184.5h1M543 184.5h1M544 184.5h1M545 184.5h1M546 184.5h1M547 184.5h1M548 184.5h1M549 184.5h1M543 185.5h1M545 185.5h1M546 185.5h1M547 185.5h1M548 185.5h1M489 186.5h1M490 186.5h1M491 186.5h1M492 186.5h1M539 186.5h1M540 186.5h1M541 186.5h1M542 186.5h1M543 186.5h1M546 186.5h1M547 186.5h1M488 187.5h1M489 187.5h1M490 187.5h1M492 187.5h1M536 187.5h1M538 187.5h1M539 187.5h1M540 187.5h1M541 187.5h1M542 187.5h1M488 188.5h1M489 188.5h1M490 188.5h1M491 188.5h1M492 188.5h1M536 188.5h1M537 188.5h1M538 188.5h1M539 188.5h1M490 189.5h1M491 189.5h1M492 189.5h1M534 189.5h1M535 189.5h1M536 189.5h1M537 189.5h1M490 190.5h1M491 190.5h1M492 190.5h1M493 190.5h1M528 190.5h1M529 190.5h1M534 190.5h1M535 190.5h1M536 190.5h1M491 191.5h1M492 191.5h1M493 191.5h1M494 191.5h1M495 191.5h1M519 191.5h1M520 191.5h1M521 191.5h1M522 191.5h1M523 191.5h1M525 191.5h1M526 191.5h1M529 191.5h1M530 191.5h1M531 191.5h1M532 191.5h1M533 191.5h1M534 191.5h1M497 192.5h1M498 192.5h1M499 192.5h1M503 192.5h1M512 192.5h1M513 192.5h1M516 192.5h1M517 192.5h1M518 192.5h1M519 192.5h1M520 192.5h1M521 192.5h1M522 192.5h1M523 192.5h1M497 193.5h1M498 193.5h1M499 193.5h1M500 193.5h1M501 193.5h1M502 193.5h1M503 193.5h1M505 193.5h1M506 193.5h1M507 193.5h1M508 193.5h1M509 193.5h1M510 193.5h1M511 193.5h1M517 193.5h1M518 193.5h1M508 194.5h1M509 194.5h1" stroke="#356cd2"/><path d="M511 177.5h1M512 177.5h1M519 177.5h1M520 177.5h1M521 177.5h1M522 177.5h1M525 177.5h1M526 177.5h1M528 177.5h1M529 177.5h1M530 177.5h1M531 177.5h1M532 177.5h1M536 177.5h1M537 177.5h1M538 177.5h1M510 178.5h1M511 178.5h1M512 178.5h1M513 178.5h1M514 178.5h1M516 178.5h1M517 178.5h1M518 178.5h1M519 178.5h1M520 178.5h1M521 178.5h1M522 178.5h1M523 178.5h1M524 178.5h1M525 178.5h1M526 178.5h1M527 178.5h1M528 178.5h1M529 178.5h1M532 178.5h1M533 178.5h1M534 178.5h1M535 178.5h1M536 178.5h1M537 178.5h1M538 178.5h1M539 178.5h1M506 179.5h1M507 179.5h1M513 179.5h1M514 179.5h1M518 179.5h1M519 179.5h1M521 179.5h1M523 179.5h1M532 179.5h1M534 179.5h1M535 179.5h1M536 179.5h1M537 179.5h1M538 179.5h1M539 179.5h1M540 179.5h1M541 179.5h1M501 180.5h1M503 180.5h1M504 180.5h1M505 180.5h1M534 180.5h1M535 180.5h1M540 180.5h1M541 180.5h1M542 180.5h1M496 181.5h1M497 181.5h1M498 181.5h1M499 181.5h1M500 181.5h1M501 181.5h1M502 181.5h1M541 181.5h1M542 181.5h1M543 181.5h1M544 181.5h1M494 182.5h1M495 182.5h1M499 182.5h1M500 182.5h1M542 182.5h1M543 182.5h1M544 182.5h1M493 183.5h1M494 183.5h1M538 183.5h1M542 183.5h1M543 183.5h1M493 184.5h1M537 184.5h1M538 184.5h1M539 184.5h1M540 184.5h1M541 184.5h1M542 184.5h1M492 185.5h1M493 185.5h1M537 185.5h1M538 185.5h1M540 185.5h1M541 185.5h1M493 186.5h1M534 186.5h1M535 186.5h1M536 186.5h1M537 186.5h1M538 186.5h1M493 187.5h1M530 187.5h1M531 187.5h1M532 187.5h1M533 187.5h1M534 187.5h1M535 187.5h1M493 188.5h1M529 188.5h1M530 188.5h1M531 188.5h1M532 188.5h1M533 188.5h1M534 188.5h1M535 188.5h1M493 189.5h1M494 189.5h1M495 189.5h1M528 189.5h1M529 189.5h1M531 189.5h1M532 189.5h1M495 190.5h1M496 190.5h1M513 190.5h1M518 190.5h1M519 190.5h1M520 190.5h1M521 190.5h1M523 190.5h1M524 190.5h1M526 190.5h1M530 190.5h1M531 190.5h1M532 190.5h1M533 190.5h1M497 191.5h1M498 191.5h1M499 191.5h1M502 191.5h1M503 191.5h1M511 191.5h1M512 191.5h1M514 191.5h1M515 191.5h1M516 191.5h1M517 191.5h1M518 191.5h1M500 192.5h1M501 192.5h1M502 192.5h1M504 192.5h1M505 192.5h1M506 192.5h1M507 192.5h1M508 192.5h1M509 192.5h1M510 192.5h1M511 192.5h1" stroke="#2d78d7"/><path d="M530 178.5h1M531 178.5h1M508 179.5h1M509 179.5h1M510 179.5h1M511 179.5h1M512 179.5h1M515 179.5h1M516 179.5h1M517 179.5h1M522 179.5h1M524 179.5h1M525 179.5h1M526 179.5h1M527 179.5h1M528 179.5h1M529 179.5h1M530 179.5h1M531 179.5h1M506 180.5h1M507 180.5h1M508 180.5h1M509 180.5h1M510 180.5h1M511 180.5h1M512 180.5h1M514 180.5h1M518 180.5h1M520 180.5h1M521 180.5h1M522 180.5h1M523 180.5h1M524 180.5h1M525 180.5h1M526 180.5h1M531 180.5h1M532 180.5h1M533 180.5h1M538 180.5h1M539 180.5h1M503 181.5h1M504 181.5h1M505 181.5h1M512 181.5h1M523 181.5h1M524 181.5h1M532 181.5h1M533 181.5h1M534 181.5h1M535 181.5h1M536 181.5h1M537 181.5h1M538 181.5h1M539 181.5h1M540 181.5h1M497 182.5h1M498 182.5h1M501 182.5h1M502 182.5h1M533 182.5h1M534 182.5h1M535 182.5h1M536 182.5h1M537 182.5h1M538 182.5h1M539 182.5h1M540 182.5h1M541 182.5h1M495 183.5h1M496 183.5h1M497 183.5h1M498 183.5h1M499 183.5h1M500 183.5h1M534 183.5h1M535 183.5h1M536 183.5h1M537 183.5h1M540 183.5h1M541 183.5h1M494 184.5h1M495 184.5h1M497 184.5h1M498 184.5h1M499 184.5h1M534 184.5h1M535 184.5h1M536 184.5h1M494 185.5h1M497 185.5h1M529 185.5h1M530 185.5h1M533 185.5h1M534 185.5h1M535 185.5h1M536 185.5h1M494 186.5h1M495 186.5h1M496 186.5h1M497 186.5h1M529 186.5h1M530 186.5h1M531 186.5h1M532 186.5h1M533 186.5h1M494 187.5h1M495 187.5h1M497 187.5h1M523 187.5h1M524 187.5h1M528 187.5h1M529 187.5h1M494 188.5h1M495 188.5h1M496 188.5h1M497 188.5h1M498 188.5h1M499 188.5h1M522 188.5h1M523 188.5h1M524 188.5h1M525 188.5h1M528 188.5h1M496 189.5h1M497 189.5h1M498 189.5h1M499 189.5h1M500 189.5h1M519 189.5h1M520 189.5h1M521 189.5h1M522 189.5h1M523 189.5h1M524 189.5h1M525 189.5h1M526 189.5h1M527 189.5h1M497 190.5h1M498 190.5h1M499 190.5h1M500 190.5h1M501 190.5h1M502 190.5h1M503 190.5h1M506 190.5h1M510 190.5h1M511 190.5h1M514 190.5h1M515 190.5h1M516 190.5h1M517 190.5h1M500 191.5h1M501 191.5h1M504 191.5h1M505 191.5h1M507 191.5h1M508 191.5h1M509 191.5h1M510 191.5h1" stroke="#2891d4"/><path d="M515 180.5h1M516 180.5h1M517 180.5h1M527 180.5h1M528 180.5h1M529 180.5h1M530 180.5h1M506 181.5h1M507 181.5h1M508 181.5h1M509 181.5h1M510 181.5h1M511 181.5h1M513 181.5h1M514 181.5h1M519 181.5h1M520 181.5h1M521 181.5h1M522 181.5h1M525 181.5h1M526 181.5h1M527 181.5h1M528 181.5h1M529 181.5h1M530 181.5h1M531 181.5h1M503 182.5h1M504 182.5h1M505 182.5h1M509 182.5h1M510 182.5h1M511 182.5h1M512 182.5h1M513 182.5h1M521 182.5h1M522 182.5h1M523 182.5h1M524 182.5h1M525 182.5h1M526 182.5h1M528 182.5h1M529 182.5h1M531 182.5h1M532 182.5h1M501 183.5h1M502 183.5h1M510 183.5h1M511 183.5h1M521 183.5h1M528 183.5h1M529 183.5h1M530 183.5h1M531 183.5h1M532 183.5h1M533 183.5h1M496 184.5h1M500 184.5h1M501 184.5h1M521 184.5h1M522 184.5h1M527 184.5h1M528 184.5h1M529 184.5h1M530 184.5h1M531 184.5h1M532 184.5h1M533 184.5h1M495 185.5h1M496 185.5h1M498 185.5h1M499 185.5h1M522 185.5h1M523 185.5h1M524 185.5h1M525 185.5h1M526 185.5h1M527 185.5h1M528 185.5h1M531 185.5h1M532 185.5h1M498 186.5h1M519 186.5h1M522 186.5h1M523 186.5h1M524 186.5h1M525 186.5h1M526 186.5h1M527 186.5h1M528 186.5h1M498 187.5h1M499 187.5h1M518 187.5h1M519 187.5h1M520 187.5h1M521 187.5h1M522 187.5h1M525 187.5h1M526 187.5h1M527 187.5h1M500 188.5h1M518 188.5h1M519 188.5h1M520 188.5h1M521 188.5h1M526 188.5h1M527 188.5h1M501 189.5h1M502 189.5h1M505 189.5h1M506 189.5h1M510 189.5h1M511 189.5h1M512 189.5h1M513 189.5h1M514 189.5h1M515 189.5h1M516 189.5h1M517 189.5h1M518 189.5h1M504 190.5h1M505 190.5h1M507 190.5h1M508 190.5h1M509 190.5h1" stroke="#23aad2"/><path d="M515 181.5h1M516 181.5h1M517 181.5h1M518 181.5h1M506 182.5h1M507 182.5h1M508 182.5h1M514 182.5h1M515 182.5h1M519 182.5h1M520 182.5h1M527 182.5h1M503 183.5h1M504 183.5h1M505 183.5h1M508 183.5h1M512 183.5h1M513 183.5h1M514 183.5h1M515 183.5h1M519 183.5h1M520 183.5h1M522 183.5h1M523 183.5h1M524 183.5h1M525 183.5h1M526 183.5h1M527 183.5h1M502 184.5h1M510 184.5h1M515 184.5h1M516 184.5h1M519 184.5h1M520 184.5h1M523 184.5h1M524 184.5h1M525 184.5h1M526 184.5h1M500 185.5h1M501 185.5h1M502 185.5h1M516 185.5h1M517 185.5h1M518 185.5h1M519 185.5h1M520 185.5h1M521 185.5h1M499 186.5h1M500 186.5h1M501 186.5h1M502 186.5h1M517 186.5h1M518 186.5h1M520 186.5h1M521 186.5h1M500 187.5h1M501 187.5h1M502 187.5h1M503 187.5h1M504 187.5h1M505 187.5h1M513 187.5h1M514 187.5h1M517 187.5h1M501 188.5h1M502 188.5h1M503 188.5h1M504 188.5h1M505 188.5h1M506 188.5h1M509 188.5h1M510 188.5h1M512 188.5h1M513 188.5h1M514 188.5h1M515 188.5h1M516 188.5h1M517 188.5h1M503 189.5h1M504 189.5h1M507 189.5h1M508 189.5h1M509 189.5h1" stroke="#34b6aa"/><path d="M516 182.5h1M517 182.5h1M518 182.5h1M506 183.5h1M507 183.5h1M516 183.5h1M517 183.5h1M518 183.5h1M503 184.5h1M504 184.5h1M505 184.5h1M506 184.5h1M508 184.5h1M509 184.5h1M511 184.5h1M512 184.5h1M513 184.5h1M514 184.5h1M517 184.5h1M518 184.5h1M503 185.5h1M504 185.5h1M505 185.5h1M506 185.5h1M510 185.5h1M513 185.5h1M514 185.5h1M515 185.5h1M503 186.5h1M504 186.5h1M505 186.5h1M506 186.5h1M507 186.5h1M512 186.5h1M513 186.5h1M514 186.5h1M515 186.5h1M516 186.5h1M506 187.5h1M507 187.5h1M508 187.5h1M509 187.5h1M510 187.5h1M511 187.5h1M512 187.5h1M515 187.5h1M516 187.5h1M507 188.5h1M508 188.5h1M511 188.5h1" stroke="#46c382"/><path d="M507 184.5h1M507 185.5h1M508 185.5h1M509 185.5h1M511 185.5h1M512 185.5h1M508 186.5h1M509 186.5h1M510 186.5h1M511 186.5h1" stroke="#88c953"/></g>
<path d="M488.5 176V201" stroke="#d09050" stroke-width="1" opacity="0.8"/>
<g stroke-width="1" opacity="0.9" filter="url(#bl)"><path d="M430 258.5h1M411 263.5h1M417 264.5h1M404 265.5h1M420 265.5h1M417 267.5h1M423 268.5h1M396 269.5h1M423 270.5h1M377 272.5h1M417 272.5h1M422 273.5h1M431 273.5h1M371 276.5h1M362 277.5h1M347 280.5h1M416 282.5h1M340 283.5h1M356 283.5h1M346 286.5h1M413 286.5h1M340 287.5h1M336 290.5h1M408 294.5h1M407 297.5h1M402 298.5h1M400 302.5h1M394 304.5h1M377 312.5h1M380 313.5h1M374 314.5h1M370 315.5h1M346 320.5h1M333 321.5h1M333 323.5h1M355 323.5h1M362 323.5h1M359 325.5h1M337 326.5h1M338 326.5h1" stroke="#939ae5"/><path d="M423 264.5h1M423 265.5h1M405 267.5h1M407 267.5h1M410 267.5h1M409 268.5h1M412 268.5h1M412 269.5h1M417 269.5h1M401 270.5h1M403 270.5h1M412 270.5h1M397 271.5h1M401 271.5h1M404 271.5h1M407 271.5h1M409 271.5h1M413 271.5h1M416 271.5h1M399 272.5h1M404 272.5h1M405 272.5h1M406 272.5h1M407 272.5h1M408 272.5h1M409 272.5h1M410 272.5h1M413 272.5h1M394 273.5h1M397 273.5h1M399 273.5h1M400 273.5h1M412 273.5h1M388 274.5h1M394 274.5h1M395 274.5h1M409 274.5h1M387 275.5h1M410 275.5h1M381 276.5h1M383 276.5h1M388 276.5h1M389 276.5h1M408 276.5h1M412 276.5h1M383 277.5h1M388 277.5h1M392 277.5h1M409 277.5h1M410 277.5h1M411 277.5h1M412 277.5h1M363 278.5h1M373 278.5h1M375 278.5h1M380 278.5h1M381 278.5h1M393 278.5h1M407 278.5h1M408 278.5h1M357 279.5h1M358 279.5h1M370 279.5h1M372 279.5h1M376 279.5h1M377 279.5h1M383 279.5h1M384 279.5h1M387 279.5h1M409 279.5h1M410 279.5h1M411 279.5h1M412 279.5h1M362 280.5h1M371 280.5h1M372 280.5h1M377 280.5h1M381 280.5h1M413 280.5h1M366 281.5h1M371 281.5h1M372 281.5h1M380 281.5h1M382 281.5h1M407 281.5h1M360 282.5h1M363 282.5h1M375 282.5h1M380 282.5h1M410 282.5h1M414 282.5h1M359 283.5h1M364 283.5h1M365 283.5h1M366 283.5h1M367 283.5h1M369 283.5h1M371 283.5h1M372 283.5h1M408 283.5h1M413 283.5h1M365 284.5h1M366 284.5h1M369 284.5h1M354 285.5h1M362 285.5h1M404 285.5h1M406 285.5h1M354 286.5h1M357 286.5h1M358 286.5h1M359 286.5h1M364 286.5h1M403 286.5h1M407 286.5h1M408 286.5h1M411 286.5h1M356 287.5h1M403 287.5h1M408 287.5h1M351 288.5h1M355 288.5h1M402 288.5h1M409 288.5h1M411 288.5h1M349 289.5h1M350 289.5h1M351 289.5h1M352 289.5h1M398 289.5h1M404 289.5h1M342 290.5h1M344 290.5h1M345 290.5h1M400 290.5h1M401 290.5h1M346 291.5h1M348 291.5h1M397 291.5h1M402 291.5h1M403 291.5h1M404 291.5h1M337 292.5h1M341 292.5h1M345 292.5h1M346 292.5h1M347 292.5h1M401 292.5h1M404 292.5h1M338 293.5h1M345 293.5h1M347 293.5h1M396 293.5h1M405 293.5h1M335 294.5h1M336 294.5h1M339 294.5h1M341 294.5h1M342 294.5h1M343 294.5h1M345 294.5h1M347 294.5h1M397 294.5h1M402 294.5h1M404 294.5h1M333 295.5h1M334 295.5h1M339 295.5h1M341 295.5h1M393 295.5h1M394 295.5h1M398 295.5h1M402 295.5h1M337 296.5h1M340 296.5h1M393 296.5h1M395 296.5h1M397 296.5h1M400 296.5h1M333 297.5h1M334 297.5h1M337 297.5h1M390 297.5h1M392 297.5h1M395 297.5h1M398 297.5h1M333 298.5h1M337 298.5h1M389 298.5h1M391 298.5h1M396 298.5h1M397 298.5h1M336 299.5h1M337 299.5h1M338 299.5h1M388 299.5h1M389 299.5h1M391 299.5h1M396 299.5h1M335 300.5h1M389 300.5h1M399 300.5h1M333 301.5h1M334 301.5h1M385 301.5h1M387 301.5h1M395 301.5h1M396 301.5h1M334 302.5h1M335 302.5h1M385 302.5h1M387 302.5h1M391 302.5h1M397 302.5h1M335 303.5h1M392 303.5h1M334 304.5h1M384 304.5h1M386 304.5h1M387 304.5h1M389 304.5h1M333 305.5h1M383 305.5h1M333 306.5h1M379 306.5h1M380 306.5h1M382 306.5h1M388 306.5h1M333 307.5h1M376 307.5h1M385 307.5h1M333 308.5h1M375 308.5h1M377 308.5h1M383 308.5h1M333 309.5h1M371 309.5h1M383 309.5h1M374 310.5h1M384 310.5h1M333 311.5h1M334 311.5h1M336 311.5h1M337 311.5h1M369 311.5h1M370 311.5h1M334 312.5h1M335 312.5h1M337 312.5h1M338 312.5h1M339 312.5h1M342 312.5h1M361 312.5h1M364 312.5h1M366 312.5h1M367 312.5h1M369 312.5h1M374 312.5h1M334 313.5h1M335 313.5h1M343 313.5h1M364 313.5h1M365 313.5h1M369 313.5h1M335 314.5h1M338 314.5h1M340 314.5h1M341 314.5h1M342 314.5h1M349 314.5h1M352 314.5h1M353 314.5h1M355 314.5h1M359 314.5h1M362 314.5h1M364 314.5h1M336 315.5h1M338 315.5h1M345 315.5h1M346 315.5h1M347 315.5h1M357 315.5h1M358 315.5h1M362 315.5h1M367 315.5h1M333 316.5h1M334 316.5h1M338 316.5h1M340 316.5h1M341 316.5h1M343 316.5h1M344 316.5h1M349 316.5h1M352 316.5h1M357 316.5h1M366 316.5h1M333 317.5h1M341 317.5h1M344 317.5h1M347 317.5h1M358 317.5h1M359 317.5h1M361 317.5h1M333 318.5h1M336 318.5h1M354 318.5h1M357 319.5h1M360 319.5h1M356 320.5h1M346 322.5h1M343 323.5h1M344 323.5h1" stroke="#758fe0"/><path d="M404 273.5h1M407 273.5h1M400 274.5h1M401 274.5h1M402 274.5h1M403 274.5h1M406 274.5h1M407 274.5h1M398 275.5h1M400 275.5h1M402 275.5h1M404 275.5h1M398 276.5h1M399 276.5h1M400 276.5h1M401 276.5h1M403 276.5h1M404 276.5h1M405 276.5h1M406 276.5h1M407 276.5h1M395 277.5h1M397 277.5h1M398 277.5h1M399 277.5h1M400 277.5h1M401 277.5h1M404 277.5h1M405 277.5h1M406 277.5h1M394 278.5h1M395 278.5h1M400 278.5h1M401 278.5h1M403 278.5h1M404 278.5h1M405 278.5h1M388 279.5h1M389 279.5h1M390 279.5h1M391 279.5h1M392 279.5h1M394 279.5h1M395 279.5h1M401 279.5h1M402 279.5h1M404 279.5h1M406 279.5h1M384 280.5h1M385 280.5h1M389 280.5h1M390 280.5h1M392 280.5h1M393 280.5h1M395 280.5h1M402 280.5h1M403 280.5h1M404 280.5h1M384 281.5h1M385 281.5h1M386 281.5h1M387 281.5h1M392 281.5h1M393 281.5h1M401 281.5h1M402 281.5h1M403 281.5h1M404 281.5h1M405 281.5h1M406 281.5h1M384 282.5h1M395 282.5h1M400 282.5h1M403 282.5h1M404 282.5h1M405 282.5h1M406 282.5h1M373 283.5h1M375 283.5h1M376 283.5h1M377 283.5h1M378 283.5h1M382 283.5h1M383 283.5h1M384 283.5h1M398 283.5h1M399 283.5h1M400 283.5h1M404 283.5h1M371 284.5h1M373 284.5h1M374 284.5h1M376 284.5h1M377 284.5h1M378 284.5h1M379 284.5h1M380 284.5h1M394 284.5h1M395 284.5h1M396 284.5h1M397 284.5h1M398 284.5h1M399 284.5h1M402 284.5h1M367 285.5h1M370 285.5h1M371 285.5h1M374 285.5h1M375 285.5h1M376 285.5h1M380 285.5h1M393 285.5h1M394 285.5h1M395 285.5h1M398 285.5h1M399 285.5h1M402 285.5h1M361 286.5h1M362 286.5h1M366 286.5h1M367 286.5h1M368 286.5h1M370 286.5h1M371 286.5h1M373 286.5h1M374 286.5h1M393 286.5h1M394 286.5h1M397 286.5h1M398 286.5h1M399 286.5h1M401 286.5h1M402 286.5h1M359 287.5h1M361 287.5h1M362 287.5h1M363 287.5h1M364 287.5h1M365 287.5h1M368 287.5h1M369 287.5h1M370 287.5h1M392 287.5h1M396 287.5h1M397 287.5h1M398 287.5h1M399 287.5h1M400 287.5h1M401 287.5h1M356 288.5h1M358 288.5h1M359 288.5h1M360 288.5h1M362 288.5h1M366 288.5h1M392 288.5h1M393 288.5h1M394 288.5h1M396 288.5h1M400 288.5h1M401 288.5h1M356 289.5h1M359 289.5h1M394 289.5h1M395 289.5h1M396 289.5h1M397 289.5h1M350 290.5h1M351 290.5h1M355 290.5h1M356 290.5h1M357 290.5h1M395 290.5h1M397 290.5h1M350 291.5h1M353 291.5h1M355 291.5h1M394 291.5h1M350 292.5h1M351 292.5h1M352 292.5h1M354 292.5h1M390 292.5h1M393 292.5h1M350 293.5h1M351 293.5h1M391 293.5h1M393 293.5h1M349 294.5h1M350 294.5h1M389 294.5h1M342 295.5h1M349 295.5h1M388 295.5h1M389 295.5h1M342 296.5h1M343 296.5h1M344 296.5h1M346 296.5h1M348 296.5h1M387 296.5h1M388 296.5h1M340 297.5h1M342 297.5h1M343 297.5h1M345 297.5h1M386 297.5h1M388 297.5h1M340 298.5h1M341 298.5h1M342 298.5h1M343 298.5h1M344 298.5h1M345 298.5h1M346 298.5h1M385 298.5h1M387 298.5h1M339 299.5h1M341 299.5h1M343 299.5h1M344 299.5h1M384 299.5h1M385 299.5h1M386 299.5h1M387 299.5h1M339 300.5h1M340 300.5h1M341 300.5h1M342 300.5h1M383 300.5h1M386 300.5h1M339 301.5h1M341 301.5h1M343 301.5h1M383 301.5h1M384 301.5h1M338 302.5h1M339 302.5h1M381 302.5h1M383 302.5h1M336 303.5h1M337 303.5h1M380 303.5h1M381 303.5h1M382 303.5h1M337 304.5h1M377 304.5h1M378 304.5h1M379 304.5h1M380 304.5h1M335 305.5h1M337 305.5h1M375 305.5h1M376 305.5h1M377 305.5h1M380 305.5h1M335 306.5h1M336 306.5h1M338 306.5h1M374 306.5h1M375 306.5h1M377 306.5h1M335 307.5h1M336 307.5h1M337 307.5h1M338 307.5h1M339 307.5h1M374 307.5h1M375 307.5h1M335 308.5h1M336 308.5h1M337 308.5h1M338 308.5h1M369 308.5h1M372 308.5h1M373 308.5h1M374 308.5h1M334 309.5h1M335 309.5h1M336 309.5h1M339 309.5h1M341 309.5h1M343 309.5h1M344 309.5h1M367 309.5h1M368 309.5h1M369 309.5h1M370 309.5h1M338 310.5h1M340 310.5h1M341 310.5h1M343 310.5h1M344 310.5h1M360 310.5h1M361 310.5h1M362 310.5h1M364 310.5h1M365 310.5h1M366 310.5h1M335 311.5h1M339 311.5h1M341 311.5h1M344 311.5h1M345 311.5h1M346 311.5h1M347 311.5h1M348 311.5h1M349 311.5h1M350 311.5h1M351 311.5h1M353 311.5h1M354 311.5h1M357 311.5h1M358 311.5h1M359 311.5h1M361 311.5h1M366 311.5h1M344 312.5h1M345 312.5h1M348 312.5h1M350 312.5h1M351 312.5h1M353 312.5h1M355 312.5h1M356 312.5h1M357 312.5h1M358 312.5h1M359 312.5h1M360 312.5h1M346 313.5h1M348 313.5h1M351 313.5h1M354 313.5h1M357 313.5h1M359 313.5h1M345 314.5h1M346 314.5h1M356 314.5h1M357 314.5h1M358 314.5h1" stroke="#5287db"/><path d="M397 278.5h1M398 278.5h1M399 278.5h1M397 279.5h1M398 279.5h1M399 279.5h1M400 279.5h1M396 280.5h1M397 280.5h1M398 280.5h1M399 280.5h1M400 280.5h1M389 281.5h1M390 281.5h1M397 281.5h1M398 281.5h1M399 281.5h1M386 282.5h1M387 282.5h1M388 282.5h1M389 282.5h1M390 282.5h1M391 282.5h1M392 282.5h1M393 282.5h1M396 282.5h1M397 282.5h1M386 283.5h1M387 283.5h1M388 283.5h1M389 283.5h1M390 283.5h1M391 283.5h1M392 283.5h1M393 283.5h1M396 283.5h1M397 283.5h1M383 284.5h1M384 284.5h1M385 284.5h1M387 284.5h1M388 284.5h1M389 284.5h1M390 284.5h1M391 284.5h1M392 284.5h1M393 284.5h1M377 285.5h1M378 285.5h1M379 285.5h1M382 285.5h1M383 285.5h1M384 285.5h1M385 285.5h1M386 285.5h1M388 285.5h1M389 285.5h1M390 285.5h1M391 285.5h1M392 285.5h1M376 286.5h1M377 286.5h1M378 286.5h1M379 286.5h1M380 286.5h1M381 286.5h1M382 286.5h1M383 286.5h1M384 286.5h1M385 286.5h1M386 286.5h1M387 286.5h1M388 286.5h1M389 286.5h1M390 286.5h1M392 286.5h1M372 287.5h1M373 287.5h1M375 287.5h1M376 287.5h1M377 287.5h1M378 287.5h1M379 287.5h1M380 287.5h1M381 287.5h1M386 287.5h1M389 287.5h1M390 287.5h1M391 287.5h1M361 288.5h1M368 288.5h1M371 288.5h1M374 288.5h1M375 288.5h1M388 288.5h1M389 288.5h1M360 289.5h1M361 289.5h1M362 289.5h1M363 289.5h1M366 289.5h1M367 289.5h1M368 289.5h1M369 289.5h1M370 289.5h1M372 289.5h1M387 289.5h1M388 289.5h1M389 289.5h1M391 289.5h1M359 290.5h1M360 290.5h1M361 290.5h1M362 290.5h1M363 290.5h1M364 290.5h1M365 290.5h1M366 290.5h1M367 290.5h1M369 290.5h1M370 290.5h1M371 290.5h1M387 290.5h1M388 290.5h1M389 290.5h1M390 290.5h1M392 290.5h1M393 290.5h1M394 290.5h1M356 291.5h1M357 291.5h1M358 291.5h1M359 291.5h1M360 291.5h1M363 291.5h1M364 291.5h1M366 291.5h1M387 291.5h1M388 291.5h1M389 291.5h1M390 291.5h1M391 291.5h1M392 291.5h1M393 291.5h1M355 292.5h1M356 292.5h1M357 292.5h1M358 292.5h1M387 292.5h1M388 292.5h1M389 292.5h1M391 292.5h1M392 292.5h1M352 293.5h1M353 293.5h1M354 293.5h1M355 293.5h1M356 293.5h1M387 293.5h1M388 293.5h1M352 294.5h1M354 294.5h1M355 294.5h1M386 294.5h1M387 294.5h1M388 294.5h1M351 295.5h1M385 295.5h1M386 295.5h1M387 295.5h1M349 296.5h1M350 296.5h1M351 296.5h1M352 296.5h1M385 296.5h1M386 296.5h1M349 297.5h1M350 297.5h1M384 297.5h1M385 297.5h1M348 298.5h1M349 298.5h1M384 298.5h1M346 299.5h1M347 299.5h1M348 299.5h1M349 299.5h1M382 299.5h1M383 299.5h1M344 300.5h1M345 300.5h1M346 300.5h1M347 300.5h1M348 300.5h1M349 300.5h1M382 300.5h1M344 301.5h1M345 301.5h1M346 301.5h1M347 301.5h1M349 301.5h1M350 301.5h1M380 301.5h1M381 301.5h1M382 301.5h1M340 302.5h1M341 302.5h1M342 302.5h1M343 302.5h1M344 302.5h1M345 302.5h1M346 302.5h1M347 302.5h1M348 302.5h1M349 302.5h1M350 302.5h1M351 302.5h1M378 302.5h1M379 302.5h1M339 303.5h1M340 303.5h1M341 303.5h1M342 303.5h1M343 303.5h1M344 303.5h1M345 303.5h1M346 303.5h1M347 303.5h1M348 303.5h1M350 303.5h1M351 303.5h1M375 303.5h1M376 303.5h1M377 303.5h1M378 303.5h1M338 304.5h1M339 304.5h1M340 304.5h1M341 304.5h1M342 304.5h1M343 304.5h1M344 304.5h1M345 304.5h1M346 304.5h1M348 304.5h1M349 304.5h1M350 304.5h1M351 304.5h1M375 304.5h1M376 304.5h1M338 305.5h1M339 305.5h1M340 305.5h1M341 305.5h1M342 305.5h1M343 305.5h1M344 305.5h1M345 305.5h1M346 305.5h1M347 305.5h1M348 305.5h1M349 305.5h1M350 305.5h1M351 305.5h1M373 305.5h1M374 305.5h1M340 306.5h1M341 306.5h1M342 306.5h1M343 306.5h1M344 306.5h1M346 306.5h1M347 306.5h1M348 306.5h1M349 306.5h1M350 306.5h1M351 306.5h1M372 306.5h1M373 306.5h1M341 307.5h1M342 307.5h1M343 307.5h1M344 307.5h1M346 307.5h1M347 307.5h1M348 307.5h1M349 307.5h1M350 307.5h1M351 307.5h1M366 307.5h1M367 307.5h1M369 307.5h1M370 307.5h1M371 307.5h1M341 308.5h1M342 308.5h1M344 308.5h1M345 308.5h1M346 308.5h1M347 308.5h1M348 308.5h1M349 308.5h1M350 308.5h1M351 308.5h1M352 308.5h1M353 308.5h1M354 308.5h1M355 308.5h1M356 308.5h1M357 308.5h1M358 308.5h1M359 308.5h1M360 308.5h1M361 308.5h1M362 308.5h1M363 308.5h1M364 308.5h1M365 308.5h1M366 308.5h1M367 308.5h1M368 308.5h1M345 309.5h1M346 309.5h1M347 309.5h1M348 309.5h1M349 309.5h1M350 309.5h1M351 309.5h1M352 309.5h1M353 309.5h1M355 309.5h1M356 309.5h1M357 309.5h1M358 309.5h1M359 309.5h1M360 309.5h1M362 309.5h1M363 309.5h1M364 309.5h1M346 310.5h1M348 310.5h1M349 310.5h1M350 310.5h1M351 310.5h1M352 310.5h1M353 310.5h1M354 310.5h1M355 310.5h1M358 310.5h1" stroke="#2f8ed7"/><path d="M382 287.5h1M383 287.5h1M384 287.5h1M387 287.5h1M388 287.5h1M376 288.5h1M377 288.5h1M378 288.5h1M379 288.5h1M380 288.5h1M381 288.5h1M382 288.5h1M383 288.5h1M384 288.5h1M385 288.5h1M386 288.5h1M387 288.5h1M374 289.5h1M375 289.5h1M376 289.5h1M377 289.5h1M378 289.5h1M379 289.5h1M380 289.5h1M381 289.5h1M383 289.5h1M384 289.5h1M385 289.5h1M386 289.5h1M368 290.5h1M372 290.5h1M373 290.5h1M374 290.5h1M375 290.5h1M376 290.5h1M377 290.5h1M378 290.5h1M379 290.5h1M380 290.5h1M381 290.5h1M383 290.5h1M384 290.5h1M385 290.5h1M386 290.5h1M361 291.5h1M362 291.5h1M367 291.5h1M369 291.5h1M370 291.5h1M371 291.5h1M372 291.5h1M379 291.5h1M380 291.5h1M381 291.5h1M383 291.5h1M384 291.5h1M385 291.5h1M386 291.5h1M359 292.5h1M360 292.5h1M361 292.5h1M362 292.5h1M363 292.5h1M364 292.5h1M365 292.5h1M366 292.5h1M367 292.5h1M380 292.5h1M381 292.5h1M382 292.5h1M383 292.5h1M384 292.5h1M385 292.5h1M386 292.5h1M357 293.5h1M358 293.5h1M359 293.5h1M360 293.5h1M361 293.5h1M362 293.5h1M363 293.5h1M380 293.5h1M381 293.5h1M382 293.5h1M383 293.5h1M384 293.5h1M385 293.5h1M386 293.5h1M356 294.5h1M357 294.5h1M358 294.5h1M359 294.5h1M360 294.5h1M361 294.5h1M381 294.5h1M382 294.5h1M383 294.5h1M384 294.5h1M385 294.5h1M354 295.5h1M355 295.5h1M356 295.5h1M357 295.5h1M358 295.5h1M359 295.5h1M382 295.5h1M383 295.5h1M384 295.5h1M353 296.5h1M354 296.5h1M355 296.5h1M356 296.5h1M357 296.5h1M382 296.5h1M383 296.5h1M351 297.5h1M352 297.5h1M353 297.5h1M354 297.5h1M355 297.5h1M381 297.5h1M382 297.5h1M383 297.5h1M350 298.5h1M351 298.5h1M352 298.5h1M353 298.5h1M354 298.5h1M355 298.5h1M381 298.5h1M382 298.5h1M350 299.5h1M351 299.5h1M352 299.5h1M353 299.5h1M354 299.5h1M355 299.5h1M380 299.5h1M381 299.5h1M351 300.5h1M352 300.5h1M353 300.5h1M354 300.5h1M379 300.5h1M380 300.5h1M381 300.5h1M351 301.5h1M352 301.5h1M353 301.5h1M377 301.5h1M378 301.5h1M379 301.5h1M352 302.5h1M353 302.5h1M375 302.5h1M376 302.5h1M377 302.5h1M352 303.5h1M353 303.5h1M352 304.5h1M353 304.5h1M354 304.5h1M372 304.5h1M352 305.5h1M353 305.5h1M354 305.5h1M355 305.5h1M371 305.5h1M372 305.5h1M352 306.5h1M354 306.5h1M355 306.5h1M356 306.5h1M357 306.5h1M358 306.5h1M359 306.5h1M360 306.5h1M361 306.5h1M362 306.5h1M363 306.5h1M364 306.5h1M365 306.5h1M367 306.5h1M368 306.5h1M369 306.5h1M370 306.5h1M352 307.5h1M353 307.5h1M354 307.5h1M355 307.5h1M356 307.5h1M357 307.5h1M358 307.5h1M359 307.5h1M360 307.5h1M363 307.5h1M364 307.5h1M365 307.5h1" stroke="#23a5d7"/><path d="M373 291.5h1M374 291.5h1M375 291.5h1M376 291.5h1M377 291.5h1M378 291.5h1M368 292.5h1M369 292.5h1M370 292.5h1M371 292.5h1M372 292.5h1M373 292.5h1M374 292.5h1M375 292.5h1M376 292.5h1M377 292.5h1M378 292.5h1M379 292.5h1M364 293.5h1M365 293.5h1M366 293.5h1M367 293.5h1M368 293.5h1M369 293.5h1M370 293.5h1M371 293.5h1M378 293.5h1M379 293.5h1M362 294.5h1M363 294.5h1M379 294.5h1M380 294.5h1M361 295.5h1M362 295.5h1M379 295.5h1M380 295.5h1M381 295.5h1M358 296.5h1M359 296.5h1M360 296.5h1M379 296.5h1M380 296.5h1M381 296.5h1M356 297.5h1M357 297.5h1M358 297.5h1M359 297.5h1M379 297.5h1M380 297.5h1M356 298.5h1M357 298.5h1M358 298.5h1M359 298.5h1M379 298.5h1M380 298.5h1M356 299.5h1M357 299.5h1M378 299.5h1M379 299.5h1M355 300.5h1M357 300.5h1M376 300.5h1M377 300.5h1M378 300.5h1M354 301.5h1M355 301.5h1M356 301.5h1M375 301.5h1M376 301.5h1M354 302.5h1M355 302.5h1M374 302.5h1M354 303.5h1M355 303.5h1M372 303.5h1M373 303.5h1M355 304.5h1M356 304.5h1M357 304.5h1M362 304.5h1M363 304.5h1M364 304.5h1M365 304.5h1M371 304.5h1M356 305.5h1M357 305.5h1M358 305.5h1M359 305.5h1M360 305.5h1M361 305.5h1M362 305.5h1M363 305.5h1M364 305.5h1M365 305.5h1M366 305.5h1M367 305.5h1M368 305.5h1M369 305.5h1M370 305.5h1" stroke="#2ab1b6"/><path d="M372 293.5h1M373 293.5h1M374 293.5h1M375 293.5h1M376 293.5h1M377 293.5h1M364 294.5h1M365 294.5h1M366 294.5h1M367 294.5h1M368 294.5h1M369 294.5h1M370 294.5h1M371 294.5h1M372 294.5h1M373 294.5h1M374 294.5h1M375 294.5h1M376 294.5h1M377 294.5h1M378 294.5h1M363 295.5h1M378 295.5h1M361 296.5h1M362 296.5h1M378 296.5h1M360 297.5h1M361 297.5h1M377 297.5h1M378 297.5h1M360 298.5h1M377 298.5h1M378 298.5h1M359 299.5h1M360 299.5h1M375 299.5h1M376 299.5h1M377 299.5h1M358 300.5h1M359 300.5h1M360 300.5h1M374 300.5h1M375 300.5h1M357 301.5h1M358 301.5h1M359 301.5h1M373 301.5h1M374 301.5h1M356 302.5h1M357 302.5h1M358 302.5h1M359 302.5h1M372 302.5h1M373 302.5h1M356 303.5h1M357 303.5h1M358 303.5h1M359 303.5h1M360 303.5h1M361 303.5h1M362 303.5h1M363 303.5h1M364 303.5h1M365 303.5h1M367 303.5h1M368 303.5h1M369 303.5h1M370 303.5h1M371 303.5h1M358 304.5h1M359 304.5h1M360 304.5h1M361 304.5h1M366 304.5h1M367 304.5h1M368 304.5h1M369 304.5h1M370 304.5h1" stroke="#32be96"/><path d="M364 295.5h1M365 295.5h1M366 295.5h1M367 295.5h1M368 295.5h1M369 295.5h1M370 295.5h1M371 295.5h1M372 295.5h1M373 295.5h1M374 295.5h1M375 295.5h1M376 295.5h1M377 295.5h1M363 296.5h1M364 296.5h1M371 296.5h1M372 296.5h1M373 296.5h1M374 296.5h1M375 296.5h1M376 296.5h1M377 296.5h1M362 297.5h1M363 297.5h1M374 297.5h1M375 297.5h1M376 297.5h1M361 298.5h1M362 298.5h1M374 298.5h1M375 298.5h1M376 298.5h1M361 299.5h1M362 299.5h1M373 299.5h1M374 299.5h1M361 300.5h1M362 300.5h1M373 300.5h1M360 301.5h1M361 301.5h1M362 301.5h1M369 301.5h1M370 301.5h1M371 301.5h1M372 301.5h1M360 302.5h1M361 302.5h1M362 302.5h1M363 302.5h1M364 302.5h1M365 302.5h1M366 302.5h1M367 302.5h1M368 302.5h1M369 302.5h1M370 302.5h1M371 302.5h1" stroke="#58c369"/><path d="M365 296.5h1M366 296.5h1M367 296.5h1M368 296.5h1M369 296.5h1M370 296.5h1M364 297.5h1M365 297.5h1M369 297.5h1M370 297.5h1M371 297.5h1M372 297.5h1M373 297.5h1M363 298.5h1M364 298.5h1M369 298.5h1M370 298.5h1M371 298.5h1M372 298.5h1M373 298.5h1M363 299.5h1M369 299.5h1M370 299.5h1M371 299.5h1M372 299.5h1M363 300.5h1M364 300.5h1M368 300.5h1M369 300.5h1M370 300.5h1M371 300.5h1M372 300.5h1M363 301.5h1M364 301.5h1M365 301.5h1M366 301.5h1M367 301.5h1M368 301.5h1" stroke="#88c841"/><path d="M366 297.5h1M367 297.5h1M368 297.5h1M365 298.5h1M366 298.5h1M367 298.5h1M368 298.5h1M364 299.5h1M365 299.5h1M366 299.5h1M367 299.5h1M368 299.5h1M365 300.5h1M366 300.5h1M367 300.5h1" stroke="#dcc828"/></g>
<g stroke-width="1" opacity="0.9" filter="url(#bl)"><path d="M568 264.5h1M566 265.5h1M581 266.5h1M598 266.5h1M559 267.5h1M573 267.5h1M576 267.5h1M530 268.5h1M561 268.5h1M570 268.5h1M586 268.5h1M598 268.5h1M579 269.5h1M588 269.5h1M590 269.5h1M591 269.5h1M546 270.5h1M559 270.5h1M565 270.5h1M568 270.5h1M573 270.5h1M581 270.5h1M584 270.5h1M539 271.5h1M557 271.5h1M567 271.5h1M576 271.5h1M541 272.5h1M544 272.5h1M581 272.5h1M583 272.5h1M585 272.5h1M521 273.5h1M541 273.5h1M598 273.5h1M521 274.5h1M543 274.5h1M551 274.5h1M511 275.5h1M526 275.5h1M527 275.5h1M599 275.5h1M505 276.5h1M517 276.5h1M523 276.5h1M532 276.5h1M534 276.5h1M540 276.5h1M519 277.5h1M495 278.5h1M615 278.5h1M512 279.5h1M515 279.5h1M599 279.5h1M513 280.5h1M517 280.5h1M598 280.5h1M497 281.5h1M510 281.5h1M601 281.5h1M499 282.5h1M501 282.5h1M509 282.5h1M507 283.5h1M599 284.5h1M491 285.5h1M594 285.5h1M599 286.5h1M597 287.5h1M590 288.5h1M594 288.5h1M592 290.5h1M596 290.5h1M584 294.5h1M588 295.5h1M592 295.5h1M584 297.5h1M578 298.5h1M586 298.5h1M573 299.5h1M587 299.5h1M577 301.5h1M549 304.5h1M551 304.5h1M555 304.5h1M552 305.5h1M559 305.5h1M550 306.5h1M553 307.5h1M569 307.5h1M527 308.5h1M542 308.5h1M554 308.5h1M546 309.5h1M548 309.5h1M543 310.5h1M516 311.5h1M531 311.5h1M511 312.5h1M529 312.5h1M540 312.5h1M528 313.5h1M533 313.5h1M500 314.5h1M513 314.5h1M504 316.5h1M497 317.5h1M500 317.5h1M497 318.5h1M507 319.5h1" stroke="#4f61cd"/><path d="M582 269.5h1M583 269.5h1M554 271.5h1M561 271.5h1M554 272.5h1M556 272.5h1M561 272.5h1M571 272.5h1M574 272.5h1M592 272.5h1M555 273.5h1M563 273.5h1M566 273.5h1M567 273.5h1M568 273.5h1M571 273.5h1M577 273.5h1M579 273.5h1M590 273.5h1M591 273.5h1M545 274.5h1M554 274.5h1M558 274.5h1M561 274.5h1M564 274.5h1M566 274.5h1M570 274.5h1M571 274.5h1M573 274.5h1M574 274.5h1M575 274.5h1M576 274.5h1M578 274.5h1M579 274.5h1M583 274.5h1M590 274.5h1M546 275.5h1M555 275.5h1M561 275.5h1M563 275.5h1M566 275.5h1M569 275.5h1M570 275.5h1M572 275.5h1M573 275.5h1M579 275.5h1M581 275.5h1M582 275.5h1M584 275.5h1M587 275.5h1M591 275.5h1M542 276.5h1M547 276.5h1M550 276.5h1M555 276.5h1M562 276.5h1M568 276.5h1M584 276.5h1M587 276.5h1M589 276.5h1M590 276.5h1M534 277.5h1M538 277.5h1M542 277.5h1M545 277.5h1M546 277.5h1M548 277.5h1M549 277.5h1M550 277.5h1M559 277.5h1M580 277.5h1M584 277.5h1M587 277.5h1M588 277.5h1M591 277.5h1M520 278.5h1M526 278.5h1M527 278.5h1M529 278.5h1M537 278.5h1M538 278.5h1M546 278.5h1M547 278.5h1M548 278.5h1M549 278.5h1M550 278.5h1M580 278.5h1M584 278.5h1M585 278.5h1M586 278.5h1M589 278.5h1M592 278.5h1M520 279.5h1M521 279.5h1M531 279.5h1M532 279.5h1M535 279.5h1M537 279.5h1M542 279.5h1M544 279.5h1M545 279.5h1M547 279.5h1M548 279.5h1M520 280.5h1M527 280.5h1M530 280.5h1M534 280.5h1M537 280.5h1M538 280.5h1M546 280.5h1M585 280.5h1M586 280.5h1M588 280.5h1M590 280.5h1M591 280.5h1M592 280.5h1M594 280.5h1M515 281.5h1M526 281.5h1M527 281.5h1M528 281.5h1M540 281.5h1M547 281.5h1M586 281.5h1M587 281.5h1M589 281.5h1M595 281.5h1M505 282.5h1M515 282.5h1M517 282.5h1M521 282.5h1M529 282.5h1M585 282.5h1M587 282.5h1M588 282.5h1M589 282.5h1M591 282.5h1M593 282.5h1M512 283.5h1M513 283.5h1M516 283.5h1M517 283.5h1M521 283.5h1M522 283.5h1M524 283.5h1M526 283.5h1M529 283.5h1M586 283.5h1M589 283.5h1M590 283.5h1M592 283.5h1M593 283.5h1M596 283.5h1M514 284.5h1M518 284.5h1M520 284.5h1M521 284.5h1M522 284.5h1M523 284.5h1M524 284.5h1M525 284.5h1M586 284.5h1M588 284.5h1M591 284.5h1M597 284.5h1M501 285.5h1M503 285.5h1M507 285.5h1M510 285.5h1M515 285.5h1M519 285.5h1M522 285.5h1M589 285.5h1M591 285.5h1M592 285.5h1M494 286.5h1M495 286.5h1M501 286.5h1M503 286.5h1M504 286.5h1M506 286.5h1M509 286.5h1M510 286.5h1M511 286.5h1M512 286.5h1M588 286.5h1M493 287.5h1M494 287.5h1M497 287.5h1M498 287.5h1M500 287.5h1M504 287.5h1M505 287.5h1M494 288.5h1M495 288.5h1M499 288.5h1M501 288.5h1M504 288.5h1M587 288.5h1M588 288.5h1M492 289.5h1M499 289.5h1M501 289.5h1M586 289.5h1M587 289.5h1M490 290.5h1M491 290.5h1M492 290.5h1M493 290.5h1M495 290.5h1M492 291.5h1M493 291.5h1M494 291.5h1M590 291.5h1M492 292.5h1M495 292.5h1M580 292.5h1M582 292.5h1M490 293.5h1M580 293.5h1M581 293.5h1M588 293.5h1M490 294.5h1M575 294.5h1M577 294.5h1M579 294.5h1M580 294.5h1M588 294.5h1M490 295.5h1M491 295.5h1M494 295.5h1M575 295.5h1M579 295.5h1M490 296.5h1M491 296.5h1M493 296.5h1M576 296.5h1M580 296.5h1M582 296.5h1M491 297.5h1M575 297.5h1M582 297.5h1M567 298.5h1M572 298.5h1M569 299.5h1M570 299.5h1M563 300.5h1M568 300.5h1M569 300.5h1M543 301.5h1M560 301.5h1M561 301.5h1M562 301.5h1M568 301.5h1M571 301.5h1M541 302.5h1M542 302.5h1M545 302.5h1M547 302.5h1M550 302.5h1M553 302.5h1M554 302.5h1M556 302.5h1M557 302.5h1M558 302.5h1M562 302.5h1M567 302.5h1M569 302.5h1M570 302.5h1M533 303.5h1M535 303.5h1M540 303.5h1M541 303.5h1M544 303.5h1M545 303.5h1M546 303.5h1M554 303.5h1M558 303.5h1M561 303.5h1M563 303.5h1M564 303.5h1M490 304.5h1M522 304.5h1M530 304.5h1M531 304.5h1M533 304.5h1M534 304.5h1M536 304.5h1M538 304.5h1M541 304.5h1M543 304.5h1M547 304.5h1M564 304.5h1M490 305.5h1M524 305.5h1M525 305.5h1M528 305.5h1M532 305.5h1M533 305.5h1M540 305.5h1M544 305.5h1M545 305.5h1M547 305.5h1M521 306.5h1M522 306.5h1M526 306.5h1M533 306.5h1M536 306.5h1M537 306.5h1M540 306.5h1M547 306.5h1M490 307.5h1M492 307.5h1M504 307.5h1M508 307.5h1M518 307.5h1M523 307.5h1M530 307.5h1M532 307.5h1M537 307.5h1M490 308.5h1M491 308.5h1M510 308.5h1M515 308.5h1M520 308.5h1M525 308.5h1M530 308.5h1M533 308.5h1M534 308.5h1M537 308.5h1M491 309.5h1M492 309.5h1M493 309.5h1M494 309.5h1M506 309.5h1M508 309.5h1M509 309.5h1M512 309.5h1M514 309.5h1M517 309.5h1M522 309.5h1M523 309.5h1M529 309.5h1M534 309.5h1M492 310.5h1M493 310.5h1M502 310.5h1M505 310.5h1M507 310.5h1M508 310.5h1M509 310.5h1M518 310.5h1M519 310.5h1M521 310.5h1M523 310.5h1M524 310.5h1M525 310.5h1M530 310.5h1M490 311.5h1M491 311.5h1M493 311.5h1M496 311.5h1M499 311.5h1M500 311.5h1M503 311.5h1M504 311.5h1M505 311.5h1M513 311.5h1M524 311.5h1M493 312.5h1M494 312.5h1M497 312.5h1M502 312.5h1M504 312.5h1M505 312.5h1M514 312.5h1M490 313.5h1M492 313.5h1M499 313.5h1M512 313.5h1M494 314.5h1M503 314.5h1M504 314.5h1M503 315.5h1M500 316.5h1" stroke="#4467d0"/><path d="M562 273.5h1M562 274.5h1M563 274.5h1M559 275.5h1M560 275.5h1M574 275.5h1M575 275.5h1M576 275.5h1M556 276.5h1M557 276.5h1M558 276.5h1M569 276.5h1M570 276.5h1M571 276.5h1M573 276.5h1M574 276.5h1M576 276.5h1M577 276.5h1M579 276.5h1M581 276.5h1M582 276.5h1M583 276.5h1M552 277.5h1M553 277.5h1M555 277.5h1M557 277.5h1M558 277.5h1M563 277.5h1M564 277.5h1M565 277.5h1M566 277.5h1M567 277.5h1M568 277.5h1M569 277.5h1M571 277.5h1M573 277.5h1M574 277.5h1M575 277.5h1M577 277.5h1M581 277.5h1M582 277.5h1M551 278.5h1M552 278.5h1M553 278.5h1M554 278.5h1M555 278.5h1M556 278.5h1M557 278.5h1M558 278.5h1M560 278.5h1M561 278.5h1M566 278.5h1M568 278.5h1M577 278.5h1M578 278.5h1M582 278.5h1M583 278.5h1M543 279.5h1M550 279.5h1M552 279.5h1M553 279.5h1M555 279.5h1M556 279.5h1M557 279.5h1M558 279.5h1M559 279.5h1M577 279.5h1M578 279.5h1M579 279.5h1M580 279.5h1M581 279.5h1M583 279.5h1M531 280.5h1M532 280.5h1M543 280.5h1M545 280.5h1M549 280.5h1M550 280.5h1M555 280.5h1M579 280.5h1M580 280.5h1M584 280.5h1M530 281.5h1M531 281.5h1M532 281.5h1M534 281.5h1M536 281.5h1M537 281.5h1M542 281.5h1M543 281.5h1M544 281.5h1M545 281.5h1M546 281.5h1M549 281.5h1M550 281.5h1M557 281.5h1M575 281.5h1M578 281.5h1M580 281.5h1M581 281.5h1M584 281.5h1M530 282.5h1M531 282.5h1M537 282.5h1M538 282.5h1M539 282.5h1M545 282.5h1M547 282.5h1M548 282.5h1M549 282.5h1M575 282.5h1M581 282.5h1M583 282.5h1M584 282.5h1M531 283.5h1M537 283.5h1M543 283.5h1M546 283.5h1M575 283.5h1M581 283.5h1M582 283.5h1M583 283.5h1M584 283.5h1M526 284.5h1M527 284.5h1M529 284.5h1M530 284.5h1M532 284.5h1M533 284.5h1M536 284.5h1M544 284.5h1M546 284.5h1M580 284.5h1M581 284.5h1M582 284.5h1M584 284.5h1M516 285.5h1M517 285.5h1M525 285.5h1M526 285.5h1M528 285.5h1M530 285.5h1M531 285.5h1M532 285.5h1M533 285.5h1M534 285.5h1M535 285.5h1M538 285.5h1M546 285.5h1M579 285.5h1M581 285.5h1M582 285.5h1M583 285.5h1M584 285.5h1M585 285.5h1M507 286.5h1M508 286.5h1M515 286.5h1M518 286.5h1M519 286.5h1M520 286.5h1M522 286.5h1M523 286.5h1M525 286.5h1M526 286.5h1M527 286.5h1M529 286.5h1M530 286.5h1M532 286.5h1M546 286.5h1M579 286.5h1M580 286.5h1M582 286.5h1M583 286.5h1M584 286.5h1M586 286.5h1M507 287.5h1M508 287.5h1M509 287.5h1M510 287.5h1M512 287.5h1M513 287.5h1M514 287.5h1M515 287.5h1M524 287.5h1M525 287.5h1M526 287.5h1M527 287.5h1M528 287.5h1M579 287.5h1M580 287.5h1M585 287.5h1M496 288.5h1M497 288.5h1M498 288.5h1M507 288.5h1M508 288.5h1M509 288.5h1M510 288.5h1M511 288.5h1M512 288.5h1M514 288.5h1M529 288.5h1M578 288.5h1M581 288.5h1M582 288.5h1M583 288.5h1M585 288.5h1M503 289.5h1M508 289.5h1M509 289.5h1M510 289.5h1M511 289.5h1M512 289.5h1M514 289.5h1M577 289.5h1M578 289.5h1M579 289.5h1M580 289.5h1M581 289.5h1M582 289.5h1M583 289.5h1M584 289.5h1M585 289.5h1M496 290.5h1M497 290.5h1M499 290.5h1M501 290.5h1M502 290.5h1M503 290.5h1M504 290.5h1M505 290.5h1M506 290.5h1M507 290.5h1M509 290.5h1M510 290.5h1M511 290.5h1M512 290.5h1M513 290.5h1M576 290.5h1M581 290.5h1M582 290.5h1M584 290.5h1M496 291.5h1M497 291.5h1M498 291.5h1M499 291.5h1M503 291.5h1M512 291.5h1M514 291.5h1M577 291.5h1M580 291.5h1M581 291.5h1M582 291.5h1M583 291.5h1M584 291.5h1M496 292.5h1M497 292.5h1M502 292.5h1M503 292.5h1M513 292.5h1M577 292.5h1M492 293.5h1M497 293.5h1M498 293.5h1M500 293.5h1M502 293.5h1M573 293.5h1M574 293.5h1M576 293.5h1M492 294.5h1M493 294.5h1M494 294.5h1M495 294.5h1M496 294.5h1M498 294.5h1M500 294.5h1M502 294.5h1M572 294.5h1M492 295.5h1M501 295.5h1M572 295.5h1M571 296.5h1M572 296.5h1M493 297.5h1M495 297.5h1M567 297.5h1M569 297.5h1M571 297.5h1M492 298.5h1M493 298.5h1M494 298.5h1M495 298.5h1M490 299.5h1M491 299.5h1M494 299.5h1M537 299.5h1M490 300.5h1M537 300.5h1M539 300.5h1M542 300.5h1M543 300.5h1M544 300.5h1M545 300.5h1M552 300.5h1M554 300.5h1M560 300.5h1M564 300.5h1M566 300.5h1M490 301.5h1M491 301.5h1M494 301.5h1M495 301.5h1M531 301.5h1M532 301.5h1M533 301.5h1M537 301.5h1M538 301.5h1M539 301.5h1M540 301.5h1M541 301.5h1M545 301.5h1M546 301.5h1M547 301.5h1M548 301.5h1M549 301.5h1M551 301.5h1M552 301.5h1M554 301.5h1M555 301.5h1M556 301.5h1M558 301.5h1M491 302.5h1M495 302.5h1M512 302.5h1M513 302.5h1M514 302.5h1M530 302.5h1M531 302.5h1M532 302.5h1M534 302.5h1M535 302.5h1M536 302.5h1M537 302.5h1M538 302.5h1M539 302.5h1M546 302.5h1M495 303.5h1M511 303.5h1M512 303.5h1M514 303.5h1M519 303.5h1M521 303.5h1M522 303.5h1M523 303.5h1M524 303.5h1M526 303.5h1M528 303.5h1M529 303.5h1M536 303.5h1M538 303.5h1M491 304.5h1M492 304.5h1M493 304.5h1M495 304.5h1M501 304.5h1M502 304.5h1M503 304.5h1M504 304.5h1M507 304.5h1M514 304.5h1M520 304.5h1M523 304.5h1M524 304.5h1M525 304.5h1M527 304.5h1M494 305.5h1M501 305.5h1M502 305.5h1M503 305.5h1M504 305.5h1M505 305.5h1M507 305.5h1M508 305.5h1M509 305.5h1M510 305.5h1M511 305.5h1M512 305.5h1M513 305.5h1M514 305.5h1M520 305.5h1M494 306.5h1M495 306.5h1M497 306.5h1M498 306.5h1M499 306.5h1M500 306.5h1M501 306.5h1M502 306.5h1M503 306.5h1M505 306.5h1M511 306.5h1M513 306.5h1M515 306.5h1M516 306.5h1M517 306.5h1M519 306.5h1M520 306.5h1M493 307.5h1M495 307.5h1M498 307.5h1M499 307.5h1M500 307.5h1M501 307.5h1M502 307.5h1M506 307.5h1M507 307.5h1M510 307.5h1M511 307.5h1M520 307.5h1M494 308.5h1M495 308.5h1M496 308.5h1M498 308.5h1M499 308.5h1M500 308.5h1M501 308.5h1M502 308.5h1M507 308.5h1M521 308.5h1M522 308.5h1M497 309.5h1M498 309.5h1M499 309.5h1M500 309.5h1M501 309.5h1M503 309.5h1M507 309.5h1M498 310.5h1M499 310.5h1M500 310.5h1M503 310.5h1M497 311.5h1" stroke="#386ed3"/><path d="M570 277.5h1M576 277.5h1M563 278.5h1M564 278.5h1M567 278.5h1M569 278.5h1M570 278.5h1M571 278.5h1M572 278.5h1M575 278.5h1M576 278.5h1M561 279.5h1M562 279.5h1M565 279.5h1M566 279.5h1M567 279.5h1M568 279.5h1M569 279.5h1M573 279.5h1M574 279.5h1M575 279.5h1M576 279.5h1M582 279.5h1M551 280.5h1M552 280.5h1M553 280.5h1M556 280.5h1M557 280.5h1M558 280.5h1M559 280.5h1M560 280.5h1M561 280.5h1M562 280.5h1M563 280.5h1M567 280.5h1M569 280.5h1M575 280.5h1M576 280.5h1M577 280.5h1M582 280.5h1M583 280.5h1M551 281.5h1M552 281.5h1M553 281.5h1M554 281.5h1M556 281.5h1M559 281.5h1M564 281.5h1M568 281.5h1M569 281.5h1M570 281.5h1M574 281.5h1M576 281.5h1M577 281.5h1M583 281.5h1M533 282.5h1M535 282.5h1M536 282.5h1M542 282.5h1M543 282.5h1M551 282.5h1M552 282.5h1M554 282.5h1M555 282.5h1M556 282.5h1M558 282.5h1M563 282.5h1M567 282.5h1M568 282.5h1M569 282.5h1M570 282.5h1M571 282.5h1M576 282.5h1M577 282.5h1M578 282.5h1M579 282.5h1M580 282.5h1M533 283.5h1M534 283.5h1M535 283.5h1M536 283.5h1M539 283.5h1M540 283.5h1M541 283.5h1M542 283.5h1M548 283.5h1M550 283.5h1M551 283.5h1M552 283.5h1M555 283.5h1M556 283.5h1M557 283.5h1M562 283.5h1M563 283.5h1M568 283.5h1M569 283.5h1M570 283.5h1M571 283.5h1M574 283.5h1M576 283.5h1M577 283.5h1M578 283.5h1M579 283.5h1M580 283.5h1M534 284.5h1M535 284.5h1M540 284.5h1M541 284.5h1M542 284.5h1M543 284.5h1M547 284.5h1M548 284.5h1M549 284.5h1M550 284.5h1M551 284.5h1M552 284.5h1M567 284.5h1M568 284.5h1M575 284.5h1M576 284.5h1M577 284.5h1M578 284.5h1M539 285.5h1M540 285.5h1M541 285.5h1M542 285.5h1M543 285.5h1M544 285.5h1M545 285.5h1M548 285.5h1M550 285.5h1M552 285.5h1M559 285.5h1M560 285.5h1M574 285.5h1M575 285.5h1M576 285.5h1M577 285.5h1M578 285.5h1M517 286.5h1M535 286.5h1M536 286.5h1M537 286.5h1M541 286.5h1M542 286.5h1M544 286.5h1M545 286.5h1M547 286.5h1M548 286.5h1M550 286.5h1M551 286.5h1M552 286.5h1M553 286.5h1M554 286.5h1M555 286.5h1M574 286.5h1M575 286.5h1M576 286.5h1M577 286.5h1M585 286.5h1M516 287.5h1M517 287.5h1M518 287.5h1M519 287.5h1M520 287.5h1M521 287.5h1M522 287.5h1M532 287.5h1M534 287.5h1M544 287.5h1M545 287.5h1M546 287.5h1M547 287.5h1M550 287.5h1M551 287.5h1M553 287.5h1M554 287.5h1M555 287.5h1M571 287.5h1M572 287.5h1M573 287.5h1M574 287.5h1M575 287.5h1M576 287.5h1M577 287.5h1M578 287.5h1M516 288.5h1M517 288.5h1M518 288.5h1M520 288.5h1M521 288.5h1M522 288.5h1M524 288.5h1M525 288.5h1M527 288.5h1M544 288.5h1M545 288.5h1M546 288.5h1M550 288.5h1M551 288.5h1M554 288.5h1M572 288.5h1M573 288.5h1M574 288.5h1M575 288.5h1M576 288.5h1M577 288.5h1M517 289.5h1M520 289.5h1M522 289.5h1M523 289.5h1M524 289.5h1M525 289.5h1M526 289.5h1M527 289.5h1M528 289.5h1M529 289.5h1M545 289.5h1M574 289.5h1M575 289.5h1M576 289.5h1M515 290.5h1M516 290.5h1M517 290.5h1M520 290.5h1M521 290.5h1M523 290.5h1M524 290.5h1M528 290.5h1M575 290.5h1M583 290.5h1M500 291.5h1M501 291.5h1M502 291.5h1M504 291.5h1M505 291.5h1M506 291.5h1M507 291.5h1M508 291.5h1M509 291.5h1M510 291.5h1M511 291.5h1M515 291.5h1M516 291.5h1M517 291.5h1M518 291.5h1M519 291.5h1M520 291.5h1M521 291.5h1M575 291.5h1M499 292.5h1M500 292.5h1M501 292.5h1M504 292.5h1M507 292.5h1M508 292.5h1M509 292.5h1M510 292.5h1M511 292.5h1M512 292.5h1M514 292.5h1M515 292.5h1M516 292.5h1M517 292.5h1M518 292.5h1M520 292.5h1M573 292.5h1M575 292.5h1M576 292.5h1M499 293.5h1M504 293.5h1M508 293.5h1M509 293.5h1M510 293.5h1M512 293.5h1M513 293.5h1M517 293.5h1M518 293.5h1M519 293.5h1M520 293.5h1M571 293.5h1M499 294.5h1M503 294.5h1M508 294.5h1M509 294.5h1M510 294.5h1M512 294.5h1M518 294.5h1M519 294.5h1M520 294.5h1M571 294.5h1M496 295.5h1M497 295.5h1M498 295.5h1M499 295.5h1M500 295.5h1M502 295.5h1M509 295.5h1M510 295.5h1M511 295.5h1M512 295.5h1M518 295.5h1M520 295.5h1M571 295.5h1M496 296.5h1M497 296.5h1M498 296.5h1M499 296.5h1M500 296.5h1M511 296.5h1M512 296.5h1M513 296.5h1M545 296.5h1M546 296.5h1M566 296.5h1M567 296.5h1M569 296.5h1M570 296.5h1M496 297.5h1M501 297.5h1M502 297.5h1M514 297.5h1M516 297.5h1M546 297.5h1M551 297.5h1M554 297.5h1M555 297.5h1M565 297.5h1M566 297.5h1M496 298.5h1M501 298.5h1M502 298.5h1M515 298.5h1M522 298.5h1M523 298.5h1M536 298.5h1M537 298.5h1M544 298.5h1M546 298.5h1M547 298.5h1M548 298.5h1M550 298.5h1M553 298.5h1M554 298.5h1M555 298.5h1M564 298.5h1M565 298.5h1M492 299.5h1M493 299.5h1M496 299.5h1M502 299.5h1M503 299.5h1M522 299.5h1M528 299.5h1M529 299.5h1M530 299.5h1M531 299.5h1M535 299.5h1M536 299.5h1M539 299.5h1M540 299.5h1M541 299.5h1M542 299.5h1M543 299.5h1M544 299.5h1M545 299.5h1M546 299.5h1M547 299.5h1M548 299.5h1M549 299.5h1M550 299.5h1M551 299.5h1M552 299.5h1M554 299.5h1M555 299.5h1M556 299.5h1M559 299.5h1M560 299.5h1M561 299.5h1M565 299.5h1M566 299.5h1M491 300.5h1M492 300.5h1M496 300.5h1M502 300.5h1M503 300.5h1M506 300.5h1M511 300.5h1M512 300.5h1M514 300.5h1M518 300.5h1M519 300.5h1M520 300.5h1M528 300.5h1M530 300.5h1M531 300.5h1M532 300.5h1M533 300.5h1M535 300.5h1M536 300.5h1M546 300.5h1M547 300.5h1M548 300.5h1M549 300.5h1M550 300.5h1M551 300.5h1M555 300.5h1M557 300.5h1M558 300.5h1M492 301.5h1M493 301.5h1M496 301.5h1M498 301.5h1M499 301.5h1M505 301.5h1M506 301.5h1M510 301.5h1M512 301.5h1M513 301.5h1M515 301.5h1M516 301.5h1M517 301.5h1M518 301.5h1M520 301.5h1M526 301.5h1M527 301.5h1M528 301.5h1M529 301.5h1M534 301.5h1M535 301.5h1M492 302.5h1M493 302.5h1M496 302.5h1M497 302.5h1M498 302.5h1M499 302.5h1M500 302.5h1M501 302.5h1M502 302.5h1M503 302.5h1M504 302.5h1M506 302.5h1M507 302.5h1M511 302.5h1M516 302.5h1M517 302.5h1M519 302.5h1M520 302.5h1M523 302.5h1M524 302.5h1M525 302.5h1M526 302.5h1M527 302.5h1M528 302.5h1M529 302.5h1M492 303.5h1M493 303.5h1M496 303.5h1M498 303.5h1M500 303.5h1M501 303.5h1M503 303.5h1M504 303.5h1M505 303.5h1M506 303.5h1M515 303.5h1M516 303.5h1M517 303.5h1M518 303.5h1M496 304.5h1M498 304.5h1M499 304.5h1M505 304.5h1M506 304.5h1M508 304.5h1M509 304.5h1M510 304.5h1M515 304.5h1M516 304.5h1M517 304.5h1M518 304.5h1M497 305.5h1M498 305.5h1M499 305.5h1M500 305.5h1M516 305.5h1M517 305.5h1" stroke="#2d78d7"/><path d="M563 279.5h1M564 279.5h1M570 279.5h1M571 279.5h1M572 279.5h1M565 280.5h1M566 280.5h1M570 280.5h1M571 280.5h1M572 280.5h1M573 280.5h1M560 281.5h1M561 281.5h1M562 281.5h1M565 281.5h1M566 281.5h1M567 281.5h1M571 281.5h1M572 281.5h1M573 281.5h1M553 282.5h1M559 282.5h1M560 282.5h1M561 282.5h1M562 282.5h1M564 282.5h1M565 282.5h1M566 282.5h1M572 282.5h1M573 282.5h1M553 283.5h1M554 283.5h1M558 283.5h1M559 283.5h1M560 283.5h1M564 283.5h1M565 283.5h1M566 283.5h1M572 283.5h1M573 283.5h1M553 284.5h1M554 284.5h1M555 284.5h1M556 284.5h1M557 284.5h1M558 284.5h1M559 284.5h1M560 284.5h1M561 284.5h1M562 284.5h1M563 284.5h1M564 284.5h1M565 284.5h1M566 284.5h1M569 284.5h1M570 284.5h1M571 284.5h1M572 284.5h1M573 284.5h1M549 285.5h1M553 285.5h1M554 285.5h1M555 285.5h1M556 285.5h1M558 285.5h1M561 285.5h1M562 285.5h1M563 285.5h1M564 285.5h1M569 285.5h1M570 285.5h1M571 285.5h1M572 285.5h1M573 285.5h1M538 286.5h1M539 286.5h1M540 286.5h1M549 286.5h1M556 286.5h1M558 286.5h1M559 286.5h1M560 286.5h1M561 286.5h1M562 286.5h1M563 286.5h1M572 286.5h1M573 286.5h1M531 287.5h1M535 287.5h1M536 287.5h1M538 287.5h1M539 287.5h1M540 287.5h1M541 287.5h1M542 287.5h1M543 287.5h1M548 287.5h1M549 287.5h1M556 287.5h1M560 287.5h1M561 287.5h1M570 287.5h1M519 288.5h1M523 288.5h1M530 288.5h1M532 288.5h1M533 288.5h1M534 288.5h1M535 288.5h1M536 288.5h1M537 288.5h1M538 288.5h1M539 288.5h1M540 288.5h1M542 288.5h1M543 288.5h1M548 288.5h1M549 288.5h1M553 288.5h1M555 288.5h1M556 288.5h1M560 288.5h1M571 288.5h1M519 289.5h1M530 289.5h1M533 289.5h1M535 289.5h1M536 289.5h1M538 289.5h1M539 289.5h1M540 289.5h1M543 289.5h1M546 289.5h1M547 289.5h1M548 289.5h1M549 289.5h1M550 289.5h1M552 289.5h1M553 289.5h1M554 289.5h1M572 289.5h1M573 289.5h1M518 290.5h1M519 290.5h1M525 290.5h1M526 290.5h1M527 290.5h1M529 290.5h1M530 290.5h1M536 290.5h1M537 290.5h1M538 290.5h1M539 290.5h1M543 290.5h1M544 290.5h1M545 290.5h1M546 290.5h1M547 290.5h1M550 290.5h1M551 290.5h1M552 290.5h1M553 290.5h1M554 290.5h1M555 290.5h1M568 290.5h1M569 290.5h1M570 290.5h1M522 291.5h1M523 291.5h1M524 291.5h1M525 291.5h1M526 291.5h1M527 291.5h1M544 291.5h1M547 291.5h1M550 291.5h1M551 291.5h1M552 291.5h1M553 291.5h1M567 291.5h1M568 291.5h1M569 291.5h1M570 291.5h1M574 291.5h1M505 292.5h1M506 292.5h1M521 292.5h1M522 292.5h1M523 292.5h1M525 292.5h1M544 292.5h1M545 292.5h1M546 292.5h1M548 292.5h1M550 292.5h1M551 292.5h1M567 292.5h1M568 292.5h1M569 292.5h1M570 292.5h1M571 292.5h1M572 292.5h1M505 293.5h1M506 293.5h1M507 293.5h1M515 293.5h1M516 293.5h1M521 293.5h1M522 293.5h1M524 293.5h1M525 293.5h1M543 293.5h1M544 293.5h1M545 293.5h1M546 293.5h1M547 293.5h1M549 293.5h1M568 293.5h1M570 293.5h1M504 294.5h1M517 294.5h1M521 294.5h1M542 294.5h1M544 294.5h1M545 294.5h1M546 294.5h1M548 294.5h1M555 294.5h1M568 294.5h1M569 294.5h1M570 294.5h1M503 295.5h1M508 295.5h1M513 295.5h1M517 295.5h1M521 295.5h1M540 295.5h1M541 295.5h1M542 295.5h1M543 295.5h1M544 295.5h1M545 295.5h1M546 295.5h1M547 295.5h1M553 295.5h1M554 295.5h1M555 295.5h1M556 295.5h1M565 295.5h1M566 295.5h1M567 295.5h1M568 295.5h1M569 295.5h1M570 295.5h1M502 296.5h1M503 296.5h1M504 296.5h1M506 296.5h1M509 296.5h1M510 296.5h1M514 296.5h1M515 296.5h1M516 296.5h1M517 296.5h1M518 296.5h1M519 296.5h1M520 296.5h1M521 296.5h1M522 296.5h1M539 296.5h1M540 296.5h1M541 296.5h1M542 296.5h1M543 296.5h1M544 296.5h1M547 296.5h1M551 296.5h1M552 296.5h1M553 296.5h1M554 296.5h1M555 296.5h1M556 296.5h1M557 296.5h1M564 296.5h1M497 297.5h1M498 297.5h1M499 297.5h1M500 297.5h1M503 297.5h1M504 297.5h1M505 297.5h1M506 297.5h1M509 297.5h1M510 297.5h1M511 297.5h1M512 297.5h1M513 297.5h1M518 297.5h1M519 297.5h1M520 297.5h1M521 297.5h1M522 297.5h1M523 297.5h1M525 297.5h1M526 297.5h1M527 297.5h1M536 297.5h1M539 297.5h1M540 297.5h1M541 297.5h1M542 297.5h1M543 297.5h1M544 297.5h1M547 297.5h1M548 297.5h1M549 297.5h1M550 297.5h1M552 297.5h1M553 297.5h1M556 297.5h1M557 297.5h1M558 297.5h1M559 297.5h1M564 297.5h1M497 298.5h1M499 298.5h1M500 298.5h1M504 298.5h1M505 298.5h1M506 298.5h1M507 298.5h1M510 298.5h1M514 298.5h1M517 298.5h1M518 298.5h1M519 298.5h1M520 298.5h1M521 298.5h1M524 298.5h1M525 298.5h1M527 298.5h1M528 298.5h1M529 298.5h1M530 298.5h1M531 298.5h1M532 298.5h1M534 298.5h1M538 298.5h1M539 298.5h1M540 298.5h1M542 298.5h1M543 298.5h1M551 298.5h1M552 298.5h1M556 298.5h1M557 298.5h1M558 298.5h1M559 298.5h1M560 298.5h1M561 298.5h1M563 298.5h1M497 299.5h1M499 299.5h1M500 299.5h1M501 299.5h1M504 299.5h1M505 299.5h1M506 299.5h1M507 299.5h1M511 299.5h1M512 299.5h1M513 299.5h1M514 299.5h1M515 299.5h1M516 299.5h1M517 299.5h1M518 299.5h1M519 299.5h1M520 299.5h1M521 299.5h1M523 299.5h1M524 299.5h1M525 299.5h1M526 299.5h1M527 299.5h1M532 299.5h1M533 299.5h1M534 299.5h1M557 299.5h1M558 299.5h1M497 300.5h1M498 300.5h1M499 300.5h1M500 300.5h1M501 300.5h1M504 300.5h1M505 300.5h1M507 300.5h1M508 300.5h1M509 300.5h1M510 300.5h1M513 300.5h1M515 300.5h1M516 300.5h1M517 300.5h1M522 300.5h1M523 300.5h1M524 300.5h1M525 300.5h1M526 300.5h1M527 300.5h1M534 300.5h1M497 301.5h1M500 301.5h1M501 301.5h1M502 301.5h1M503 301.5h1M504 301.5h1M507 301.5h1M508 301.5h1M509 301.5h1M521 301.5h1M523 301.5h1M524 301.5h1M525 301.5h1M508 302.5h1M509 302.5h1M510 302.5h1M521 302.5h1M522 302.5h1M497 303.5h1M509 303.5h1M497 304.5h1" stroke="#2891d4"/><path d="M565 285.5h1M567 285.5h1M568 285.5h1M557 286.5h1M564 286.5h1M569 286.5h1M557 287.5h1M558 287.5h1M559 287.5h1M562 287.5h1M563 287.5h1M564 287.5h1M569 287.5h1M531 288.5h1M541 288.5h1M557 288.5h1M558 288.5h1M559 288.5h1M562 288.5h1M563 288.5h1M564 288.5h1M565 288.5h1M569 288.5h1M570 288.5h1M531 289.5h1M532 289.5h1M534 289.5h1M541 289.5h1M556 289.5h1M557 289.5h1M558 289.5h1M559 289.5h1M560 289.5h1M561 289.5h1M563 289.5h1M564 289.5h1M565 289.5h1M569 289.5h1M570 289.5h1M571 289.5h1M531 290.5h1M532 290.5h1M533 290.5h1M534 290.5h1M535 290.5h1M540 290.5h1M541 290.5h1M542 290.5h1M548 290.5h1M549 290.5h1M556 290.5h1M559 290.5h1M560 290.5h1M567 290.5h1M571 290.5h1M572 290.5h1M573 290.5h1M529 291.5h1M531 291.5h1M536 291.5h1M537 291.5h1M538 291.5h1M539 291.5h1M540 291.5h1M542 291.5h1M543 291.5h1M545 291.5h1M546 291.5h1M548 291.5h1M549 291.5h1M554 291.5h1M555 291.5h1M556 291.5h1M566 291.5h1M571 291.5h1M572 291.5h1M573 291.5h1M526 292.5h1M527 292.5h1M543 292.5h1M549 292.5h1M552 292.5h1M553 292.5h1M554 292.5h1M555 292.5h1M562 292.5h1M563 292.5h1M566 292.5h1M523 293.5h1M526 293.5h1M542 293.5h1M550 293.5h1M551 293.5h1M555 293.5h1M563 293.5h1M564 293.5h1M567 293.5h1M505 294.5h1M506 294.5h1M514 294.5h1M516 294.5h1M522 294.5h1M524 294.5h1M525 294.5h1M526 294.5h1M536 294.5h1M549 294.5h1M550 294.5h1M551 294.5h1M552 294.5h1M553 294.5h1M554 294.5h1M556 294.5h1M557 294.5h1M564 294.5h1M566 294.5h1M567 294.5h1M504 295.5h1M505 295.5h1M506 295.5h1M507 295.5h1M514 295.5h1M516 295.5h1M522 295.5h1M523 295.5h1M524 295.5h1M525 295.5h1M535 295.5h1M536 295.5h1M539 295.5h1M548 295.5h1M549 295.5h1M550 295.5h1M551 295.5h1M552 295.5h1M557 295.5h1M558 295.5h1M564 295.5h1M507 296.5h1M508 296.5h1M523 296.5h1M524 296.5h1M525 296.5h1M526 296.5h1M527 296.5h1M528 296.5h1M535 296.5h1M536 296.5h1M537 296.5h1M538 296.5h1M548 296.5h1M549 296.5h1M558 296.5h1M559 296.5h1M507 297.5h1M508 297.5h1M524 297.5h1M528 297.5h1M529 297.5h1M530 297.5h1M531 297.5h1M532 297.5h1M535 297.5h1M537 297.5h1M538 297.5h1M560 297.5h1M498 298.5h1M508 298.5h1M509 298.5h1M512 298.5h1M513 298.5h1M526 298.5h1M533 298.5h1M562 298.5h1M498 299.5h1M508 299.5h1M509 299.5h1M522 301.5h1" stroke="#23aad2"/><path d="M566 285.5h1M565 286.5h1M567 286.5h1M568 286.5h1M565 287.5h1M568 287.5h1M566 288.5h1M567 288.5h1M568 288.5h1M566 289.5h1M567 289.5h1M568 289.5h1M557 290.5h1M558 290.5h1M561 290.5h1M562 290.5h1M563 290.5h1M564 290.5h1M565 290.5h1M566 290.5h1M530 291.5h1M532 291.5h1M535 291.5h1M541 291.5h1M559 291.5h1M560 291.5h1M561 291.5h1M562 291.5h1M563 291.5h1M564 291.5h1M565 291.5h1M528 292.5h1M536 292.5h1M539 292.5h1M540 292.5h1M541 292.5h1M542 292.5h1M556 292.5h1M560 292.5h1M564 292.5h1M565 292.5h1M527 293.5h1M535 293.5h1M536 293.5h1M541 293.5h1M552 293.5h1M553 293.5h1M554 293.5h1M556 293.5h1M561 293.5h1M562 293.5h1M565 293.5h1M566 293.5h1M515 294.5h1M527 294.5h1M528 294.5h1M535 294.5h1M537 294.5h1M539 294.5h1M540 294.5h1M558 294.5h1M563 294.5h1M565 294.5h1M515 295.5h1M526 295.5h1M527 295.5h1M528 295.5h1M529 295.5h1M537 295.5h1M538 295.5h1M559 295.5h1M560 295.5h1M561 295.5h1M563 295.5h1M529 296.5h1M530 296.5h1M531 296.5h1M532 296.5h1M534 296.5h1M560 296.5h1M563 296.5h1M533 297.5h1M534 297.5h1M561 297.5h1" stroke="#34b6aa"/><path d="M566 286.5h1M566 287.5h1M567 287.5h1M533 291.5h1M534 291.5h1M557 291.5h1M558 291.5h1M529 292.5h1M530 292.5h1M531 292.5h1M532 292.5h1M533 292.5h1M535 292.5h1M537 292.5h1M538 292.5h1M557 292.5h1M558 292.5h1M559 292.5h1M528 293.5h1M532 293.5h1M533 293.5h1M534 293.5h1M537 293.5h1M539 293.5h1M540 293.5h1M557 293.5h1M558 293.5h1M560 293.5h1M529 294.5h1M531 294.5h1M532 294.5h1M533 294.5h1M534 294.5h1M538 294.5h1M559 294.5h1M560 294.5h1M561 294.5h1M562 294.5h1M530 295.5h1M531 295.5h1M532 295.5h1M533 295.5h1M562 295.5h1M533 296.5h1M561 296.5h1M562 296.5h1M562 297.5h1" stroke="#46c382"/><path d="M534 292.5h1M529 293.5h1M530 293.5h1M531 293.5h1M538 293.5h1M559 293.5h1M530 294.5h1" stroke="#88c953"/></g>
<path d="M363.2 96.4V26.2H452.9V100.1H368.8" fill="none" stroke="#505050" stroke-width="1.2"/>
<path d="M518 27.3 L607.2 27.3 L607.2 100.4 L518 100.4Z" fill="none" stroke="#505050" stroke-width="1.2"/>
<path d="M361.5 147.3 L463.5 147.3 L463.5 220.8 L361.5 220.8Z" fill="none" stroke="#e9b2cb" stroke-width="1"/>
<path d="M516.5 147 L619 147 L619 219.2 L516.5 219.2Z" fill="none" stroke="#e9b2cb" stroke-width="1"/>
<path d="M428 256.2 L463.2 256.2 L463.2 322.3 L371.1 322.3Z" fill="none" stroke="#505050" stroke-width="1.2"/>
<path d="M583.6 255.7 L619 255.7 L619 324.1 L527.4 324.1Z" fill="none" stroke="#505050" stroke-width="1.2"/>
<text x="413.3" y="93.1" style="font-family:'Liberation Serif',serif;font-weight:bold;stroke:#111;stroke-width:0.3px;font-size:15px" fill="#111" textLength="33" lengthAdjust="spacingAndGlyphs" >0.4%</text>
<text x="579.7" y="97.1" style="font-family:'Liberation Serif',serif;font-weight:bold;stroke:#111;stroke-width:0.3px;font-size:15px" fill="#111" textLength="31.5" lengthAdjust="spacingAndGlyphs" >61%</text>
<text x="418.6" y="216.9" style="font-family:'Liberation Serif',serif;font-weight:bold;stroke:#111;stroke-width:0.3px;font-size:15px" fill="#111" textLength="41.6" lengthAdjust="spacingAndGlyphs" >0.86%</text>
<text x="587.5" y="215.3" style="font-family:'Liberation Serif',serif;font-weight:bold;stroke:#111;stroke-width:0.3px;font-size:15px" fill="#111" textLength="30" lengthAdjust="spacingAndGlyphs" >66%</text>
<text x="427.8" y="312.9" style="font-family:'Liberation Serif',serif;font-weight:bold;stroke:#111;stroke-width:0.3px;font-size:15px" fill="#111" textLength="34.4" lengthAdjust="spacingAndGlyphs" >2.6%</text>
<text x="586.6" y="320.8" style="font-family:'Liberation Serif',serif;font-weight:bold;stroke:#111;stroke-width:0.3px;font-size:15px" fill="#111" textLength="30.6" lengthAdjust="spacingAndGlyphs" >52%</text>
<text x="14.4" y="430.2" style="font-family:'Liberation Sans',sans-serif;font-weight:bold;font-size:33.4px" fill="#231f20" textLength="21.6" lengthAdjust="spacingAndGlyphs" >B</text>
<path d="M104 410.5V699.3" stroke="#3a3a3a" stroke-width="1.5"/>
<path d="M103.3 698.6H669.7" stroke="#222" stroke-width="1.5"/>
<path d="M97.8 410.8H104M97.8 468.3H104M97.8 525.9H104M97.8 583.5H104M97.8 640.9H104M97.8 698.6H104" stroke="#3a3a3a" stroke-width="1.4"/>
<text x="72.2" y="414.6" style="font-family:'Liberation Sans',sans-serif;font-weight:bold;stroke:#151515;stroke-width:0.3px;font-size:10.6px" fill="#151515" textLength="14.6" lengthAdjust="spacing" >10</text>
<text x="81.3" y="472.1" style="font-family:'Liberation Sans',sans-serif;font-weight:bold;stroke:#151515;stroke-width:0.3px;font-size:10.6px" fill="#151515" textLength="5.5" lengthAdjust="spacing" >1</text>
<text x="65.8" y="529.6999999999999" style="font-family:'Liberation Sans',sans-serif;font-weight:bold;stroke:#151515;stroke-width:0.3px;font-size:10.6px" fill="#151515" textLength="21" lengthAdjust="spacing" >0.1</text>
<text x="60.199999999999996" y="587.3" style="font-family:'Liberation Sans',sans-serif;font-weight:bold;stroke:#151515;stroke-width:0.3px;font-size:10.6px" fill="#151515" textLength="26.6" lengthAdjust="spacing" >0.01</text>
<text x="51.8" y="644.6999999999999" style="font-family:'Liberation Sans',sans-serif;font-weight:bold;stroke:#151515;stroke-width:0.3px;font-size:10.6px" fill="#151515" textLength="35" lengthAdjust="spacing" >0.001</text>
<text x="42.8" y="701.5" style="font-family:'Liberation Sans',sans-serif;font-weight:bold;stroke:#151515;stroke-width:0.3px;font-size:10.6px" fill="#151515" textLength="44" lengthAdjust="spacing" >0.0001</text>
<text transform="translate(20 638.3) rotate(-90)" style="font-family:'Liberation Sans',sans-serif;font-weight:bold;font-size:14.8px" fill="#151515" textLength="169" lengthAdjust="spacingAndGlyphs">CD133 m RNA expression</text>
<rect x="130.70" y="568.90" width="22.3" height="129.70" fill="#c2c2c2" stroke="#222" stroke-width="1.4"/>
<path d="M141.85 568.90V565.30M136.25 565.30H147.45" stroke="#333" stroke-width="1.4"/>
<path d="M141.85 698.6V702.5" stroke="#222" stroke-width="1.2"/>
<rect x="168.54" y="530.80" width="22.3" height="167.80" fill="#c2c2c2" stroke="#222" stroke-width="1.4"/>
<path d="M179.69 530.80V527.20M174.09 527.20H185.29" stroke="#333" stroke-width="1.4"/>
<path d="M179.69 698.6V702.5" stroke="#222" stroke-width="1.2"/>
<rect x="206.38" y="665.00" width="22.3" height="33.60" fill="#c2c2c2" stroke="#222" stroke-width="1.4"/>
<path d="M217.53 665.00V661.40M211.93 661.40H223.13" stroke="#333" stroke-width="1.4"/>
<path d="M217.53 698.6V702.5" stroke="#222" stroke-width="1.2"/>
<rect x="244.22" y="630.70" width="22.3" height="67.90" fill="#c2c2c2" stroke="#222" stroke-width="1.4"/>
<path d="M255.37 630.70V627.10M249.77 627.10H260.97" stroke="#333" stroke-width="1.4"/>
<path d="M255.37 698.6V702.5" stroke="#222" stroke-width="1.2"/>
<rect x="282.06" y="554.90" width="22.3" height="143.70" fill="#c2c2c2" stroke="#222" stroke-width="1.4"/>
<path d="M293.21 554.90V551.30M287.61 551.30H298.81" stroke="#333" stroke-width="1.4"/>
<path d="M293.21 698.6V702.5" stroke="#222" stroke-width="1.2"/>
<rect x="319.90" y="449.40" width="22.3" height="249.20" fill="#c2c2c2" stroke="#222" stroke-width="1.4"/>
<path d="M331.05 449.40V445.80M325.45 445.80H336.65" stroke="#333" stroke-width="1.4"/>
<path d="M331.05 698.6V702.5" stroke="#222" stroke-width="1.2"/>
<rect x="357.74" y="625.40" width="22.3" height="73.20" fill="#c2c2c2" stroke="#222" stroke-width="1.4"/>
<path d="M368.89 625.40V621.80M363.29 621.80H374.49" stroke="#333" stroke-width="1.4"/>
<path d="M368.89 698.6V702.5" stroke="#222" stroke-width="1.2"/>
<rect x="395.58" y="607.90" width="22.3" height="90.70" fill="#c2c2c2" stroke="#222" stroke-width="1.4"/>
<path d="M406.73 607.90V604.30M401.13 604.30H412.33" stroke="#333" stroke-width="1.4"/>
<path d="M406.73 698.6V702.5" stroke="#222" stroke-width="1.2"/>
<rect x="433.42" y="531.90" width="22.3" height="166.70" fill="#c2c2c2" stroke="#222" stroke-width="1.4"/>
<path d="M444.57 531.90V528.30M438.97 528.30H450.17" stroke="#333" stroke-width="1.4"/>
<path d="M444.57 698.6V702.5" stroke="#222" stroke-width="1.2"/>
<rect x="471.26" y="488.50" width="22.3" height="210.10" fill="#c2c2c2" stroke="#222" stroke-width="1.4"/>
<path d="M482.41 488.50V484.90M476.81 484.90H488.01" stroke="#333" stroke-width="1.4"/>
<path d="M482.41 698.6V702.5" stroke="#222" stroke-width="1.2"/>
<rect x="509.10" y="562.30" width="22.3" height="136.30" fill="#c2c2c2" stroke="#222" stroke-width="1.4"/>
<path d="M520.25 562.30V558.70M514.65 558.70H525.85" stroke="#333" stroke-width="1.4"/>
<path d="M520.25 698.6V702.5" stroke="#222" stroke-width="1.2"/>
<rect x="546.94" y="526.40" width="22.3" height="172.20" fill="#c2c2c2" stroke="#222" stroke-width="1.4"/>
<path d="M558.09 526.40V522.80M552.49 522.80H563.69" stroke="#333" stroke-width="1.4"/>
<path d="M558.09 698.6V702.5" stroke="#222" stroke-width="1.2"/>
<rect x="584.78" y="615.30" width="22.3" height="83.30" fill="#c2c2c2" stroke="#222" stroke-width="1.4"/>
<path d="M595.93 615.30V611.70M590.33 611.70H601.53" stroke="#333" stroke-width="1.4"/>
<path d="M595.93 698.6V702.5" stroke="#222" stroke-width="1.2"/>
<rect x="622.62" y="604.50" width="22.3" height="94.10" fill="#c2c2c2" stroke="#222" stroke-width="1.4"/>
<path d="M633.77 604.50V600.90M628.17 600.90H639.37" stroke="#333" stroke-width="1.4"/>
<path d="M633.77 698.6V702.5" stroke="#222" stroke-width="1.2"/>
<path d="M132.8 512.1H177.3" stroke="#2a2a2a" stroke-width="1.4"/>
<text x="156.75" y="511.9" style="font-family:'Liberation Sans',sans-serif;font-weight:bold;font-size:23.5px" fill="#151515" text-anchor="middle" >*</text>
<path d="M210.6 609.2H255.1" stroke="#2a2a2a" stroke-width="1.4"/>
<text x="234.9" y="610.5" style="font-family:'Liberation Sans',sans-serif;font-weight:bold;font-size:23.5px" fill="#151515" text-anchor="middle" >*</text>
<path d="M297.9 434.7H342.1" stroke="#2a2a2a" stroke-width="1.4"/>
<text x="321.5" y="434.9" style="font-family:'Liberation Sans',sans-serif;font-weight:bold;font-size:23.5px" fill="#151515" text-anchor="middle" >*</text>
<path d="M358.2 592.1H403.1" stroke="#2a2a2a" stroke-width="1.4"/>
<text x="382.3" y="593.0" style="font-family:'Liberation Sans',sans-serif;font-weight:bold;font-size:23.5px" fill="#151515" text-anchor="middle" >*</text>
<path d="M436.6 477.6H480.8" stroke="#2a2a2a" stroke-width="1.4"/>
<text x="460.5" y="479.29999999999995" style="font-family:'Liberation Sans',sans-serif;font-weight:bold;font-size:23.5px" fill="#151515" text-anchor="middle" >*</text>
<path d="M519.2 513H563.4" stroke="#2a2a2a" stroke-width="1.4"/>
<text x="542.8" y="514.4" style="font-family:'Liberation Sans',sans-serif;font-weight:bold;font-size:23.5px" fill="#151515" text-anchor="middle" >*</text>
<path d="M592.9 592H637.3" stroke="#2a2a2a" stroke-width="1.4"/>
<text x="616.9" y="592.4" style="font-family:'Liberation Sans',sans-serif;font-weight:bold;font-size:23.5px" fill="#151515" text-anchor="middle" >*</text>
<text x="120.1" y="721.8" style="font-family:'Liberation Sans',sans-serif;font-weight:bold;stroke:#151515;stroke-width:0.3px;font-size:11.3px" fill="#151515" textLength="23.2" lengthAdjust="spacingAndGlyphs" >UNS</text>
<text x="155.70000000000002" y="721.8" style="font-family:'Liberation Sans',sans-serif;font-weight:bold;stroke:#151515;stroke-width:0.3px;font-size:11.3px" fill="#151515" textLength="36.4" lengthAdjust="spacingAndGlyphs" >CD133</text>
<text x="199.1" y="723.2" style="font-family:'Liberation Sans',sans-serif;font-weight:bold;stroke:#151515;stroke-width:0.3px;font-size:11.3px" fill="#151515" textLength="23.2" lengthAdjust="spacingAndGlyphs" >UNS</text>
<text x="233.20000000000002" y="721.8" style="font-family:'Liberation Sans',sans-serif;font-weight:bold;stroke:#151515;stroke-width:0.3px;font-size:11.3px" fill="#151515" textLength="36.4" lengthAdjust="spacingAndGlyphs" >CD133</text>
<text x="279.40000000000003" y="721.8" style="font-family:'Liberation Sans',sans-serif;font-weight:bold;stroke:#151515;stroke-width:0.3px;font-size:11.3px" fill="#151515" textLength="23.2" lengthAdjust="spacingAndGlyphs" >UNS</text>
<text x="312.9" y="721.8" style="font-family:'Liberation Sans',sans-serif;font-weight:bold;stroke:#151515;stroke-width:0.3px;font-size:11.3px" fill="#151515" textLength="36.4" lengthAdjust="spacingAndGlyphs" >CD133</text>
<text x="357.1" y="721.8" style="font-family:'Liberation Sans',sans-serif;font-weight:bold;stroke:#151515;stroke-width:0.3px;font-size:11.3px" fill="#151515" textLength="23.2" lengthAdjust="spacingAndGlyphs" >UNS</text>
<text x="393.7" y="721.8" style="font-family:'Liberation Sans',sans-serif;font-weight:bold;stroke:#151515;stroke-width:0.3px;font-size:11.3px" fill="#151515" textLength="36.4" lengthAdjust="spacingAndGlyphs" >CD133</text>
<text x="432.5" y="721.8" style="font-family:'Liberation Sans',sans-serif;font-weight:bold;stroke:#151515;stroke-width:0.3px;font-size:11.3px" fill="#151515" textLength="23.2" lengthAdjust="spacingAndGlyphs" >UNS</text>
<text x="469.5" y="721.8" style="font-family:'Liberation Sans',sans-serif;font-weight:bold;stroke:#151515;stroke-width:0.3px;font-size:11.3px" fill="#151515" textLength="36.4" lengthAdjust="spacingAndGlyphs" >CD133</text>
<text x="506.90000000000003" y="721.8" style="font-family:'Liberation Sans',sans-serif;font-weight:bold;stroke:#151515;stroke-width:0.3px;font-size:11.3px" fill="#151515" textLength="23.2" lengthAdjust="spacingAndGlyphs" >UNS</text>
<text x="543.4" y="721.8" style="font-family:'Liberation Sans',sans-serif;font-weight:bold;stroke:#151515;stroke-width:0.3px;font-size:11.3px" fill="#151515" textLength="36.4" lengthAdjust="spacingAndGlyphs" >CD133</text>
<text x="584.6" y="721.8" style="font-family:'Liberation Sans',sans-serif;font-weight:bold;stroke:#151515;stroke-width:0.3px;font-size:11.3px" fill="#151515" textLength="23.2" lengthAdjust="spacingAndGlyphs" >UNS</text>
<text x="620.1999999999999" y="721.8" style="font-family:'Liberation Sans',sans-serif;font-weight:bold;stroke:#151515;stroke-width:0.3px;font-size:11.3px" fill="#151515" textLength="36.4" lengthAdjust="spacingAndGlyphs" >CD133</text>
<path d="M133.4 724.8V733.6H177.3V724.8" fill="none" stroke="#222" stroke-width="1.3"/>
<text x="133.4" y="744.6" style="font-family:'Liberation Sans',sans-serif;font-weight:bold;stroke:#151515;stroke-width:0.3px;font-size:11.3px" fill="#151515" textLength="41" lengthAdjust="spacingAndGlyphs" >GBM44</text>
<path d="M210.9 724.8V733.6H256V724.8" fill="none" stroke="#222" stroke-width="1.3"/>
<text x="210.2" y="746.2" style="font-family:'Liberation Sans',sans-serif;font-weight:bold;stroke:#151515;stroke-width:0.3px;font-size:11.3px" fill="#151515" textLength="40.2" lengthAdjust="spacingAndGlyphs" >GBM50</text>
<path d="M292.7 724.8V733.6H335.8V724.8" fill="none" stroke="#222" stroke-width="1.3"/>
<text x="292.6" y="744.2" style="font-family:'Liberation Sans',sans-serif;font-weight:bold;stroke:#151515;stroke-width:0.3px;font-size:11.3px" fill="#151515" textLength="40.6" lengthAdjust="spacingAndGlyphs" >GBM53</text>
<path d="M368.1 724.8V733.6H412.2V724.8" fill="none" stroke="#222" stroke-width="1.3"/>
<text x="371.0" y="744.3" style="font-family:'Liberation Sans',sans-serif;font-weight:bold;stroke:#151515;stroke-width:0.3px;font-size:11.3px" fill="#151515" textLength="40.2" lengthAdjust="spacingAndGlyphs" >GBM57</text>
<path d="M446.9 724.8V733.6H490.6V724.8" fill="none" stroke="#222" stroke-width="1.3"/>
<text x="448.1" y="746.6" style="font-family:'Liberation Sans',sans-serif;font-weight:bold;stroke:#151515;stroke-width:0.3px;font-size:11.3px" fill="#151515" textLength="40.6" lengthAdjust="spacingAndGlyphs" >GBM59</text>
<path d="M521.3 724.8V733.6H564.1V724.8" fill="none" stroke="#222" stroke-width="1.3"/>
<text x="521.6" y="746.6" style="font-family:'Liberation Sans',sans-serif;font-weight:bold;stroke:#151515;stroke-width:0.3px;font-size:11.3px" fill="#151515" textLength="40.5" lengthAdjust="spacingAndGlyphs" >GBM56</text>
<path d="M597.6 724.8V733.6H642.2V724.8" fill="none" stroke="#222" stroke-width="1.3"/>
<text x="610.0" y="746.6" style="font-family:'Liberation Sans',sans-serif;font-weight:bold;stroke:#151515;stroke-width:0.3px;font-size:11.3px" fill="#151515" textLength="20.8" lengthAdjust="spacingAndGlyphs" >U87</text>
</svg></body></html>
